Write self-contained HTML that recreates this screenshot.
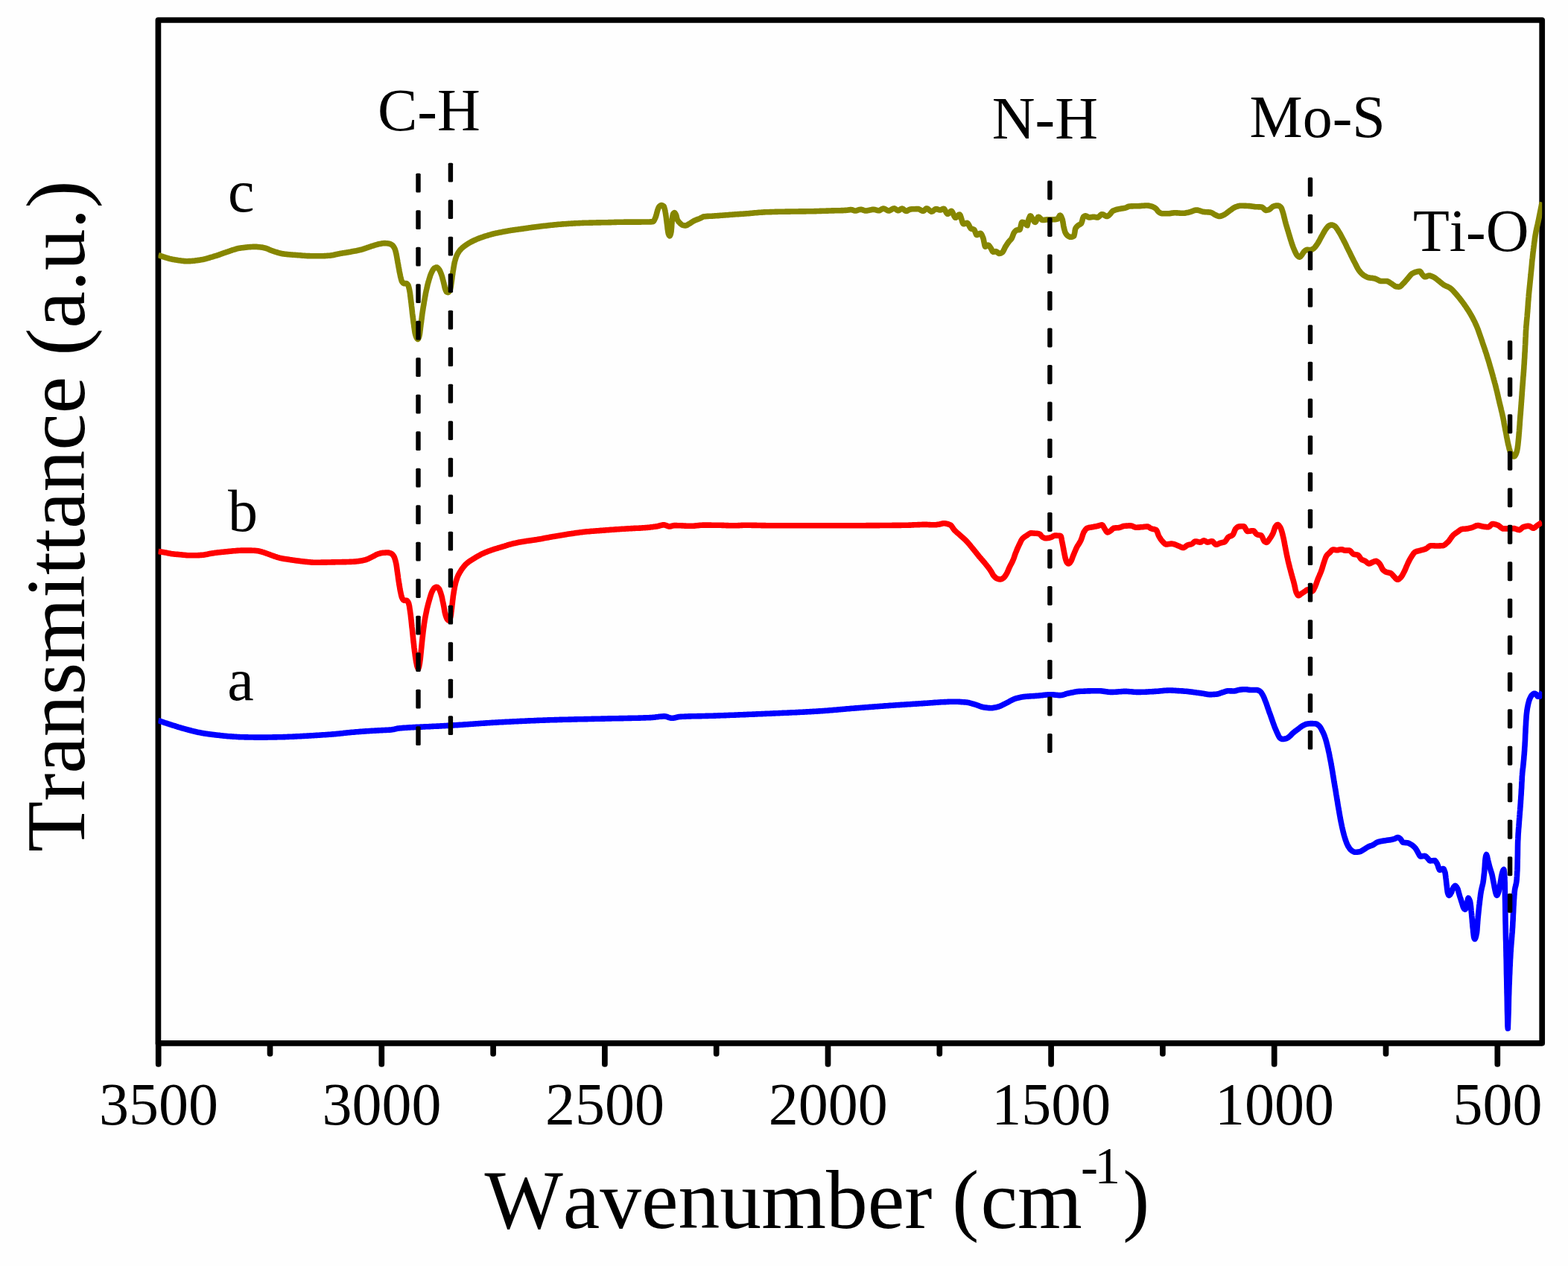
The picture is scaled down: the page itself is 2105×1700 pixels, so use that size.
<!DOCTYPE html>
<html lang="en">
<head>
<meta charset="utf-8">
<title>FTIR spectra</title>
<style>
html,body{margin:0;padding:0;background:#fefefe;}
body{width:2105px;height:1700px;overflow:hidden;}
svg{display:block;filter:blur(0.7px);}
text{font-family:"Liberation Serif","Times New Roman",serif;fill:#000;font-kerning:none;}
.tick{font-size:80px;text-anchor:middle;}
.lab{font-size:80px;}
.title{font-size:111.6px;}
.curve{fill:none;stroke-width:7.6;stroke-linejoin:round;stroke-linecap:butt;}
.dash rect{fill:#000;}
</style>
</head>
<body>
<svg width="2105" height="1700" viewBox="0 0 2105 1700">
<rect x="0" y="0" width="2105" height="1700" fill="#fefefe"/>
<defs><clipPath id="plot"><rect x="212.4" y="27.0" width="1857.8" height="1373.8"/></clipPath></defs>
<g stroke="#000" stroke-width="7.7" stroke-linecap="round">
<line x1="212.7" y1="1400.8" x2="212.7" y2="1429.0"/>
<line x1="512.3" y1="1400.8" x2="512.3" y2="1429.0"/>
<line x1="811.9" y1="1400.8" x2="811.9" y2="1429.0"/>
<line x1="1111.5" y1="1400.8" x2="1111.5" y2="1429.0"/>
<line x1="1411.1" y1="1400.8" x2="1411.1" y2="1429.0"/>
<line x1="1710.7" y1="1400.8" x2="1710.7" y2="1429.0"/>
<line x1="2010.3" y1="1400.8" x2="2010.3" y2="1429.0"/>
<line x1="362.5" y1="1400.8" x2="362.5" y2="1415.0"/>
<line x1="662.1" y1="1400.8" x2="662.1" y2="1415.0"/>
<line x1="961.7" y1="1400.8" x2="961.7" y2="1415.0"/>
<line x1="1261.3" y1="1400.8" x2="1261.3" y2="1415.0"/>
<line x1="1560.9" y1="1400.8" x2="1560.9" y2="1415.0"/>
<line x1="1860.5" y1="1400.8" x2="1860.5" y2="1415.0"/>
</g>
<rect x="212.4" y="27.0" width="1857.8" height="1373.8" fill="none" stroke="#000" stroke-width="7.7" stroke-linejoin="round"/>
<g clip-path="url(#plot)">
<path class="curve" stroke="#868600" d="M212.4,342.5 L213.4,342.9 L214.4,343.2 L215.4,343.5 L216.4,343.9 L217.4,344.2 L218.4,344.5 L219.4,344.9 L220.4,345.2 L221.4,345.5 L222.4,345.8 L223.4,346.1 L224.4,346.4 L225.4,346.8 L226.4,347.0 L227.4,347.3 L228.4,347.6 L228.5,347.6 L229.4,347.8 L230.4,348.0 L231.4,348.2 L232.4,348.4 L233.4,348.6 L234.4,348.8 L235.4,349.0 L235.6,349.0 L236.4,349.1 L237.4,349.3 L238.4,349.4 L239.4,349.6 L240.4,349.7 L241.4,349.8 L242.4,350.0 L242.8,350.0 L243.4,350.1 L244.4,350.2 L245.4,350.3 L246.4,350.5 L247.4,350.6 L248.4,350.6 L249.4,350.7 L249.9,350.7 L250.4,350.7 L251.4,350.7 L252.4,350.7 L253.4,350.6 L254.4,350.6 L255.4,350.6 L256.4,350.5 L257.0,350.5 L257.4,350.5 L258.4,350.4 L259.4,350.3 L260.4,350.2 L261.4,350.1 L262.4,349.9 L263.4,349.8 L264.1,349.7 L264.4,349.7 L265.4,349.5 L266.4,349.4 L267.4,349.2 L268.4,349.1 L269.4,348.9 L270.4,348.8 L271.3,348.6 L271.4,348.6 L272.4,348.4 L273.4,348.2 L274.4,347.9 L275.4,347.7 L276.4,347.4 L277.4,347.2 L278.4,346.9 L279.4,346.6 L280.4,346.3 L281.4,346.0 L282.4,345.7 L283.4,345.4 L284.4,345.1 L285.4,344.8 L285.5,344.8 L286.4,344.5 L287.4,344.2 L288.4,343.9 L289.4,343.6 L290.4,343.3 L291.4,343.0 L292.4,342.7 L292.6,342.6 L293.4,342.3 L294.4,342.0 L295.4,341.6 L296.4,341.2 L297.4,340.9 L298.4,340.5 L299.4,340.1 L299.8,340.0 L300.4,339.8 L301.4,339.4 L302.4,339.1 L303.4,338.8 L304.4,338.4 L305.4,338.1 L306.4,337.8 L306.9,337.6 L307.4,337.4 L308.4,337.1 L309.4,336.7 L310.4,336.4 L311.4,336.0 L312.4,335.7 L313.4,335.4 L314.0,335.2 L314.4,335.1 L315.4,334.8 L316.4,334.5 L317.4,334.2 L318.4,333.9 L319.4,333.6 L320.4,333.4 L321.1,333.3 L321.4,333.2 L322.4,333.1 L323.4,333.0 L324.4,332.8 L325.4,332.7 L326.4,332.6 L327.4,332.5 L328.3,332.4 L328.4,332.4 L329.4,332.3 L330.4,332.1 L331.4,332.0 L332.4,331.9 L333.4,331.8 L334.4,331.7 L335.4,331.6 L336.4,331.6 L337.4,331.5 L338.4,331.5 L339.4,331.4 L340.4,331.4 L341.4,331.4 L342.4,331.4 L342.5,331.4 L343.4,331.4 L344.4,331.4 L345.4,331.5 L346.4,331.6 L347.4,331.7 L348.4,331.8 L349.4,331.9 L349.6,331.9 L350.4,332.0 L351.4,332.1 L352.4,332.3 L353.4,332.5 L354.4,332.7 L355.4,332.9 L356.4,333.2 L356.8,333.3 L357.4,333.5 L358.4,333.8 L359.4,334.2 L360.4,334.7 L361.4,335.1 L362.4,335.6 L363.4,336.0 L363.9,336.2 L364.4,336.4 L365.4,336.7 L366.4,337.1 L367.4,337.4 L368.4,337.8 L369.4,338.1 L370.4,338.4 L371.0,338.6 L371.4,338.7 L372.4,339.0 L373.4,339.3 L374.4,339.6 L375.4,339.9 L376.4,340.1 L377.4,340.4 L378.1,340.5 L378.4,340.6 L379.4,340.7 L380.4,340.9 L381.4,341.0 L382.4,341.2 L383.4,341.3 L384.4,341.4 L385.3,341.5 L385.4,341.5 L386.4,341.6 L387.4,341.7 L388.4,341.8 L389.4,341.9 L390.4,342.0 L391.4,342.0 L392.4,342.1 L393.4,342.2 L394.4,342.2 L395.4,342.3 L396.4,342.4 L397.4,342.5 L398.4,342.5 L399.4,342.6 L399.5,342.6 L400.4,342.7 L401.4,342.7 L402.4,342.8 L403.4,342.9 L404.4,343.0 L405.4,343.1 L406.4,343.2 L407.4,343.2 L408.4,343.3 L409.4,343.4 L410.4,343.5 L411.4,343.5 L412.4,343.6 L413.4,343.6 L413.8,343.6 L414.4,343.6 L415.4,343.6 L416.4,343.7 L417.4,343.7 L418.4,343.7 L419.4,343.7 L420.4,343.7 L421.4,343.7 L422.4,343.8 L423.4,343.8 L424.4,343.8 L425.4,343.8 L426.4,343.8 L427.4,343.8 L428.0,343.8 L428.4,343.8 L429.4,343.8 L430.4,343.8 L431.4,343.8 L432.4,343.7 L433.4,343.7 L434.4,343.7 L435.4,343.6 L436.4,343.6 L437.4,343.5 L438.4,343.5 L439.4,343.4 L440.4,343.3 L441.4,343.3 L442.3,343.2 L442.4,343.2 L443.4,343.1 L444.4,343.0 L445.4,342.8 L446.4,342.7 L447.4,342.5 L448.4,342.3 L449.4,342.0 L450.4,341.8 L451.4,341.6 L452.4,341.4 L453.4,341.1 L454.4,340.9 L455.4,340.7 L456.4,340.5 L456.5,340.5 L457.4,340.3 L458.4,340.2 L459.4,340.0 L460.4,339.8 L461.4,339.7 L462.4,339.5 L463.4,339.4 L464.4,339.2 L465.4,339.0 L466.4,338.9 L467.4,338.7 L468.4,338.5 L469.4,338.4 L470.4,338.2 L470.8,338.1 L471.4,338.0 L472.4,337.8 L473.4,337.6 L474.4,337.4 L475.4,337.3 L476.4,337.1 L477.4,336.9 L478.4,336.7 L479.4,336.5 L480.4,336.3 L481.4,336.1 L482.4,335.8 L483.4,335.6 L484.4,335.4 L485.0,335.2 L485.4,335.1 L486.4,334.8 L487.4,334.5 L488.4,334.2 L489.4,333.8 L490.4,333.5 L491.4,333.1 L492.4,332.8 L492.9,332.6 L493.4,332.4 L494.4,332.1 L495.4,331.8 L496.4,331.4 L497.4,331.1 L498.4,330.7 L499.4,330.4 L500.4,330.1 L501.4,329.8 L502.4,329.5 L503.3,329.2 L503.4,329.2 L504.4,328.9 L505.4,328.6 L506.4,328.3 L507.4,328.0 L508.4,327.8 L509.4,327.6 L509.8,327.5 L510.4,327.4 L511.4,327.2 L512.4,327.0 L513.4,326.8 L514.4,326.7 L515.4,326.6 L516.2,326.6 L516.4,326.6 L517.4,326.6 L518.4,326.7 L519.4,326.8 L520.4,326.9 L521.4,327.0 L522.4,327.2 L523.4,327.5 L524.4,327.9 L525.4,328.4 L526.4,329.1 L526.6,329.2 L527.4,329.9 L528.4,331.2 L529.4,332.9 L529.8,333.7 L530.4,335.2 L531.1,337.5 L531.6,339.6 L531.8,340.2 L532.1,341.8 L532.5,343.9 L532.9,346.0 L533.2,348.0 L533.6,349.9 L533.7,350.6 L533.9,351.9 L534.3,353.9 L534.7,355.9 L535.0,357.9 L535.4,359.9 L535.6,360.9 L535.8,361.9 L536.1,363.9 L536.5,365.9 L536.9,367.8 L537.3,369.8 L537.6,371.3 L537.7,371.6 L538.2,373.6 L538.7,375.5 L539.2,377.2 L539.5,377.7 L540.1,378.7 L541.1,380.0 L542.1,380.6 L543.1,380.6 L544.1,380.6 L545.1,380.6 L545.3,380.6 L546.1,380.9 L547.1,381.8 L547.9,382.9 L548.1,383.3 L549.0,386.4 L549.5,388.6 L549.9,390.6 L549.9,390.7 L550.3,392.9 L550.6,395.0 L550.8,397.1 L551.1,399.1 L551.3,401.2 L551.6,403.1 L551.8,404.9 L551.8,405.1 L552.1,407.2 L552.3,409.2 L552.5,411.2 L552.8,413.3 L553.0,415.3 L553.2,417.2 L553.4,419.2 L553.6,421.2 L553.7,421.7 L553.9,423.2 L554.1,425.1 L554.4,427.1 L554.6,429.1 L554.9,431.1 L555.1,433.1 L555.4,435.0 L555.7,437.0 L555.7,437.3 L555.9,439.0 L556.2,441.0 L556.5,443.0 L556.8,444.9 L557.1,446.8 L557.5,448.5 L557.6,448.9 L558.0,450.3 L558.6,452.1 L559.4,453.7 L559.6,454.1 L560.4,455.1 L560.9,455.4 L561.4,455.1 L562.4,452.8 L562.8,451.5 L563.0,450.5 L563.5,448.1 L563.8,445.9 L564.0,443.9 L564.3,441.9 L564.5,439.9 L564.7,438.5 L564.8,438.0 L565.0,435.9 L565.3,433.9 L565.6,431.9 L565.8,429.9 L566.1,427.9 L566.3,425.9 L566.6,423.9 L566.7,423.0 L566.8,422.0 L567.1,420.0 L567.4,418.0 L567.7,416.1 L568.0,414.1 L568.3,412.1 L568.7,410.1 L569.0,408.1 L569.3,406.2 L569.6,404.2 L570.0,402.2 L570.3,400.2 L570.7,398.2 L571.1,396.3 L571.4,394.3 L571.8,392.4 L571.9,392.0 L572.2,390.4 L572.7,388.4 L573.1,386.5 L573.6,384.5 L574.0,382.5 L574.5,380.6 L575.1,378.6 L575.6,376.7 L575.7,376.4 L576.2,374.7 L576.8,372.8 L577.4,370.8 L578.1,368.9 L578.9,367.0 L579.6,365.4 L579.7,365.2 L580.7,363.3 L581.7,361.6 L582.7,360.5 L582.9,360.3 L583.7,359.8 L584.7,359.3 L585.7,359.0 L586.1,359.0 L586.7,359.1 L587.7,359.8 L588.7,360.9 L589.3,361.6 L589.7,362.1 L590.7,363.9 L591.6,366.1 L592.4,368.2 L592.6,368.7 L593.2,370.4 L593.8,372.5 L594.3,374.6 L594.9,376.6 L595.4,378.6 L595.8,380.3 L595.9,380.6 L596.4,382.8 L596.8,384.8 L597.3,386.7 L597.7,388.1 L597.8,388.3 L598.5,390.2 L599.4,391.8 L599.7,392.0 L600.4,392.3 L601.4,392.6 L601.6,392.6 L602.4,392.2 L603.4,390.9 L604.2,389.4 L604.4,388.8 L605.0,386.0 L605.4,383.9 L605.7,381.8 L606.0,379.9 L606.1,379.0 L606.3,377.9 L606.6,375.8 L606.9,373.7 L607.1,371.7 L607.4,369.7 L607.7,367.8 L607.9,365.8 L608.1,364.8 L608.2,363.9 L608.6,361.9 L608.9,359.9 L609.2,358.0 L609.6,356.0 L609.9,354.1 L610.3,352.2 L610.7,350.6 L610.8,350.4 L611.3,348.5 L611.9,346.6 L612.5,344.7 L613.3,342.9 L613.9,341.5 L614.1,341.1 L615.1,339.3 L616.1,337.8 L617.1,336.5 L618.1,335.3 L618.4,335.0 L619.1,334.2 L620.1,333.3 L621.1,332.4 L622.1,331.5 L623.1,330.8 L624.1,330.0 L625.1,329.3 L626.1,328.6 L626.2,328.6 L627.1,328.0 L628.1,327.3 L629.1,326.7 L630.1,326.1 L631.1,325.6 L632.1,325.0 L633.1,324.5 L634.1,324.0 L635.1,323.5 L635.3,323.4 L636.1,323.0 L637.1,322.5 L638.1,322.1 L639.1,321.7 L640.1,321.2 L641.1,320.8 L642.1,320.4 L643.1,320.0 L644.1,319.7 L645.1,319.3 L646.1,318.9 L647.1,318.6 L648.1,318.2 L648.2,318.2 L649.1,317.9 L650.1,317.5 L651.1,317.2 L652.1,316.9 L653.1,316.6 L654.1,316.3 L655.1,316.0 L656.1,315.7 L657.1,315.4 L658.1,315.1 L659.1,314.8 L660.1,314.5 L661.1,314.3 L662.1,314.0 L663.1,313.8 L664.1,313.6 L665.1,313.3 L666.1,313.1 L667.1,312.9 L668.1,312.7 L669.1,312.5 L670.1,312.3 L671.1,312.1 L672.1,311.9 L673.1,311.7 L674.1,311.5 L675.1,311.3 L676.1,311.1 L677.1,310.9 L678.1,310.7 L679.1,310.5 L680.1,310.4 L681.1,310.2 L682.1,310.0 L683.1,309.8 L684.1,309.7 L685.1,309.5 L686.1,309.3 L687.0,309.2 L687.1,309.2 L688.1,309.0 L689.1,308.9 L690.1,308.7 L691.1,308.6 L692.1,308.5 L693.1,308.3 L694.1,308.2 L695.1,308.1 L696.1,307.9 L697.1,307.8 L698.1,307.7 L699.1,307.5 L700.0,307.4 L700.1,307.4 L701.1,307.2 L702.1,307.1 L703.1,307.0 L704.1,306.8 L705.1,306.7 L706.1,306.5 L707.1,306.4 L708.1,306.2 L709.1,306.1 L710.1,305.9 L711.1,305.8 L712.1,305.7 L713.1,305.5 L714.0,305.4 L714.1,305.4 L715.1,305.3 L716.1,305.1 L717.1,305.0 L718.1,304.9 L719.1,304.7 L720.1,304.6 L721.1,304.5 L722.1,304.4 L723.1,304.2 L724.1,304.1 L725.1,304.0 L726.1,303.9 L727.1,303.8 L728.1,303.6 L728.5,303.6 L729.1,303.5 L730.1,303.4 L731.1,303.3 L732.1,303.2 L733.1,303.1 L734.1,303.0 L735.1,302.9 L736.1,302.8 L737.1,302.6 L738.1,302.5 L739.1,302.4 L740.1,302.3 L741.1,302.2 L742.1,302.1 L743.1,302.0 L744.1,301.9 L745.1,301.8 L746.1,301.7 L747.1,301.6 L748.1,301.5 L749.1,301.4 L750.1,301.3 L751.1,301.3 L752.1,301.2 L753.1,301.1 L754.1,301.0 L755.1,300.9 L756.1,300.9 L757.0,300.8 L757.1,300.8 L758.1,300.7 L759.1,300.7 L760.1,300.6 L761.1,300.5 L762.1,300.5 L763.1,300.4 L764.1,300.3 L765.1,300.3 L766.1,300.2 L767.1,300.1 L768.1,300.1 L769.1,300.0 L770.1,300.0 L771.1,299.9 L772.1,299.9 L773.1,299.8 L774.1,299.8 L775.1,299.7 L776.1,299.7 L777.1,299.6 L778.1,299.6 L779.1,299.5 L780.1,299.5 L781.1,299.5 L782.1,299.4 L783.1,299.4 L784.1,299.3 L785.1,299.3 L785.5,299.3 L786.1,299.3 L787.1,299.3 L788.1,299.2 L789.1,299.2 L790.1,299.2 L791.1,299.1 L792.1,299.1 L793.1,299.1 L794.1,299.1 L795.1,299.1 L796.1,299.0 L797.1,299.0 L798.1,299.0 L799.1,299.0 L800.1,299.0 L801.1,298.9 L802.1,298.9 L803.1,298.9 L804.1,298.9 L805.1,298.9 L806.1,298.9 L807.1,298.8 L808.1,298.8 L809.1,298.8 L810.1,298.8 L811.1,298.8 L812.1,298.7 L813.1,298.7 L814.0,298.7 L814.1,298.7 L815.1,298.7 L816.1,298.7 L817.1,298.6 L818.1,298.6 L819.1,298.6 L820.1,298.6 L821.1,298.5 L822.1,298.5 L823.1,298.5 L824.1,298.5 L825.1,298.4 L826.1,298.4 L827.1,298.4 L828.1,298.3 L829.1,298.3 L830.1,298.3 L831.1,298.3 L832.1,298.3 L833.1,298.2 L834.1,298.2 L835.1,298.2 L836.1,298.2 L837.1,298.2 L838.1,298.1 L839.1,298.1 L840.1,298.1 L841.1,298.1 L842.1,298.1 L842.5,298.1 L843.1,298.1 L844.1,298.1 L845.1,298.1 L846.1,298.1 L847.1,298.1 L848.1,298.1 L849.1,298.1 L850.1,298.1 L851.1,298.1 L852.1,298.1 L853.1,298.1 L854.1,298.1 L855.1,298.1 L856.1,298.1 L857.1,298.1 L858.1,298.1 L859.1,298.1 L860.1,298.1 L861.1,298.0 L862.1,298.0 L863.1,298.0 L864.1,298.0 L865.1,298.0 L866.1,298.0 L867.1,298.0 L868.1,298.0 L869.1,298.0 L870.1,298.0 L871.0,298.0 L871.1,298.0 L872.1,298.0 L873.1,297.9 L874.1,297.9 L875.1,297.8 L876.1,297.7 L876.7,297.6 L877.1,297.4 L878.1,296.1 L879.1,294.1 L880.0,292.0 L880.3,291.3 L880.8,289.7 L881.4,287.5 L881.9,285.5 L882.4,283.6 L882.9,281.8 L883.1,281.3 L883.6,280.0 L884.4,278.2 L885.3,277.0 L885.4,276.9 L886.4,276.1 L887.4,275.6 L887.8,275.6 L888.4,275.7 L889.4,276.0 L890.4,276.6 L891.0,277.0 L891.4,277.7 L892.3,280.6 L892.8,282.7 L893.1,284.1 L893.2,284.8 L893.6,287.1 L893.9,289.2 L894.2,291.3 L894.5,293.3 L894.7,295.3 L895.0,297.3 L895.2,299.2 L895.3,299.8 L895.5,301.2 L895.8,303.3 L896.0,305.3 L896.2,307.3 L896.5,309.2 L896.8,311.1 L897.1,312.9 L897.4,314.1 L897.5,314.3 L898.3,316.1 L899.1,316.9 L899.3,316.8 L900.3,314.5 L900.8,312.2 L901.0,311.2 L901.2,309.5 L901.4,307.2 L901.6,305.1 L901.7,303.0 L901.8,301.0 L902.0,299.1 L902.1,297.2 L902.3,295.4 L902.4,294.1 L902.5,293.7 L902.7,291.8 L903.0,289.9 L903.4,288.2 L903.8,287.0 L903.9,286.9 L904.9,285.8 L905.5,285.6 L905.9,285.8 L906.9,287.3 L907.4,288.4 L907.9,289.7 L908.4,291.9 L908.9,293.9 L909.5,295.5 L910.5,297.0 L911.5,298.2 L912.4,299.1 L912.5,299.2 L913.5,300.2 L914.5,301.1 L915.5,301.9 L916.5,302.4 L916.6,302.4 L917.5,302.6 L918.5,302.8 L919.5,302.9 L920.2,302.9 L920.5,302.9 L921.5,302.6 L922.5,302.2 L923.5,301.6 L924.5,300.9 L925.2,300.5 L925.5,300.3 L926.5,299.8 L927.5,299.1 L928.5,298.5 L929.5,297.8 L930.5,297.2 L931.5,296.6 L932.3,296.2 L932.5,296.1 L933.5,295.7 L934.5,295.3 L935.5,294.9 L936.5,294.5 L937.5,294.2 L938.5,293.8 L939.4,293.4 L939.5,293.4 L940.5,292.9 L941.5,292.3 L942.5,291.8 L943.5,291.3 L944.5,290.9 L945.1,290.8 L945.5,290.8 L946.5,290.7 L947.5,290.6 L948.5,290.5 L949.5,290.4 L950.5,290.4 L951.5,290.3 L952.5,290.3 L953.5,290.3 L954.5,290.2 L955.5,290.2 L956.5,290.1 L957.5,290.0 L958.5,290.0 L959.5,289.9 L960.5,289.8 L961.5,289.8 L962.5,289.7 L963.5,289.6 L964.5,289.6 L965.5,289.5 L966.5,289.4 L967.5,289.3 L968.5,289.3 L969.5,289.2 L970.5,289.1 L970.8,289.1 L971.5,289.0 L972.5,289.0 L973.5,288.9 L974.5,288.8 L975.5,288.7 L976.5,288.7 L977.5,288.6 L978.5,288.5 L979.5,288.4 L980.5,288.3 L981.5,288.3 L982.5,288.2 L983.5,288.1 L984.5,288.0 L985.0,288.0 L985.5,288.0 L986.5,287.9 L987.5,287.8 L988.5,287.8 L989.5,287.7 L990.5,287.6 L991.5,287.6 L992.5,287.5 L993.5,287.4 L994.5,287.4 L995.5,287.3 L996.5,287.2 L997.5,287.2 L998.5,287.1 L999.5,287.0 L1000.0,287.0 L1000.5,287.0 L1001.5,286.9 L1002.5,286.8 L1003.5,286.7 L1004.5,286.7 L1005.5,286.6 L1006.5,286.5 L1007.5,286.4 L1008.5,286.3 L1009.5,286.2 L1010.5,286.1 L1011.5,286.0 L1012.5,285.9 L1013.5,285.8 L1014.5,285.8 L1015.5,285.7 L1016.5,285.6 L1017.5,285.5 L1018.5,285.4 L1019.5,285.3 L1020.5,285.3 L1021.5,285.2 L1022.5,285.1 L1023.5,285.1 L1024.5,285.0 L1025.5,284.9 L1026.5,284.9 L1027.5,284.8 L1028.5,284.8 L1029.5,284.8 L1030.5,284.7 L1031.5,284.7 L1032.5,284.7 L1033.5,284.6 L1034.5,284.6 L1035.5,284.6 L1036.5,284.5 L1037.5,284.5 L1038.5,284.5 L1039.5,284.5 L1040.5,284.4 L1041.5,284.4 L1042.5,284.4 L1043.5,284.4 L1044.5,284.3 L1045.5,284.3 L1046.5,284.3 L1047.5,284.3 L1048.5,284.2 L1049.5,284.2 L1050.5,284.2 L1051.5,284.2 L1052.5,284.2 L1053.5,284.2 L1054.5,284.1 L1055.5,284.1 L1056.5,284.1 L1057.0,284.1 L1057.5,284.1 L1058.5,284.1 L1059.5,284.1 L1060.5,284.1 L1061.5,284.0 L1062.5,284.0 L1063.5,284.0 L1064.5,284.0 L1065.5,284.0 L1066.5,284.0 L1067.5,284.0 L1068.5,284.0 L1069.5,284.0 L1070.5,284.0 L1071.5,284.0 L1072.5,283.9 L1073.5,283.9 L1074.5,283.9 L1075.5,283.9 L1076.5,283.9 L1077.5,283.9 L1078.5,283.9 L1079.5,283.9 L1080.5,283.9 L1081.5,283.9 L1082.5,283.8 L1083.5,283.8 L1084.5,283.8 L1085.5,283.8 L1086.5,283.8 L1087.5,283.8 L1088.5,283.7 L1089.5,283.7 L1090.5,283.7 L1091.5,283.7 L1092.5,283.7 L1093.5,283.6 L1094.5,283.6 L1095.5,283.6 L1096.5,283.5 L1097.5,283.5 L1098.5,283.5 L1099.5,283.5 L1100.5,283.4 L1101.5,283.4 L1102.5,283.4 L1103.5,283.3 L1104.5,283.3 L1105.5,283.3 L1106.5,283.2 L1107.5,283.2 L1108.5,283.2 L1109.5,283.1 L1110.5,283.1 L1111.5,283.1 L1112.5,283.0 L1113.5,283.0 L1114.0,283.0 L1114.5,283.0 L1115.5,283.0 L1116.5,282.9 L1117.5,282.9 L1118.5,282.9 L1119.5,282.9 L1120.5,282.8 L1121.5,282.8 L1122.5,282.8 L1123.5,282.8 L1124.5,282.8 L1125.5,282.7 L1126.5,282.7 L1127.5,282.7 L1128.5,282.7 L1129.5,282.6 L1130.5,282.6 L1131.5,282.6 L1132.5,282.5 L1133.5,282.5 L1134.5,282.4 L1135.4,282.4 L1135.5,282.4 L1136.5,282.3 L1137.5,282.2 L1138.5,282.0 L1139.5,281.9 L1140.5,281.7 L1141.5,281.6 L1142.5,281.6 L1143.5,281.7 L1144.5,282.0 L1145.5,282.3 L1146.5,282.7 L1147.5,282.9 L1148.2,283.0 L1148.5,283.0 L1149.5,282.9 L1150.5,282.6 L1151.5,282.2 L1152.5,281.9 L1153.5,281.6 L1154.5,281.4 L1155.3,281.3 L1155.5,281.3 L1156.5,281.4 L1157.5,281.7 L1158.5,282.0 L1159.5,282.4 L1160.5,282.7 L1161.5,282.9 L1162.5,283.0 L1163.5,283.0 L1164.5,282.8 L1165.5,282.6 L1166.5,282.4 L1167.5,282.1 L1168.5,281.9 L1169.5,281.7 L1170.5,281.5 L1171.5,281.3 L1172.4,281.3 L1172.5,281.3 L1173.5,281.4 L1174.5,281.6 L1175.5,281.8 L1176.5,282.1 L1177.5,282.4 L1178.5,282.6 L1179.5,282.7 L1179.6,282.7 L1180.5,282.6 L1181.5,282.2 L1182.5,281.6 L1183.5,281.0 L1184.5,280.5 L1185.5,280.1 L1186.0,280.1 L1186.5,280.1 L1187.5,280.4 L1188.5,280.9 L1189.5,281.5 L1190.5,282.1 L1191.5,282.6 L1192.5,282.9 L1193.1,283.0 L1193.5,283.0 L1194.5,282.7 L1195.5,282.2 L1196.5,281.6 L1197.5,280.9 L1198.5,280.4 L1199.5,280.0 L1200.2,279.9 L1200.5,279.9 L1201.5,280.3 L1202.5,280.9 L1203.5,281.6 L1204.5,282.3 L1205.5,282.7 L1205.9,282.7 L1206.5,282.6 L1207.5,282.1 L1208.5,281.3 L1209.5,280.6 L1210.5,280.2 L1210.9,280.1 L1211.5,280.2 L1212.5,280.7 L1213.5,281.5 L1214.5,282.4 L1215.5,283.1 L1216.5,283.4 L1216.6,283.4 L1217.5,283.3 L1218.5,282.8 L1219.5,282.2 L1220.5,281.6 L1221.5,281.2 L1222.3,281.0 L1222.5,281.0 L1223.5,280.9 L1224.5,280.8 L1225.5,280.8 L1226.5,280.7 L1227.5,280.7 L1228.5,280.7 L1229.5,280.6 L1230.5,280.6 L1231.5,280.6 L1232.3,280.6 L1232.5,280.6 L1233.5,280.8 L1234.5,281.2 L1235.5,281.8 L1236.5,282.4 L1237.5,282.9 L1238.5,283.3 L1239.4,283.4 L1239.5,283.4 L1240.5,282.9 L1241.5,281.9 L1242.5,280.8 L1243.5,280.0 L1244.0,279.9 L1244.5,280.0 L1245.5,280.4 L1246.5,281.2 L1247.5,282.1 L1248.5,283.0 L1249.5,283.7 L1250.5,284.1 L1250.8,284.1 L1251.5,284.0 L1252.5,283.4 L1253.5,282.5 L1254.5,281.6 L1255.5,280.9 L1256.5,280.6 L1257.5,280.7 L1258.5,281.0 L1259.5,281.3 L1260.5,281.7 L1261.5,281.9 L1262.2,282.0 L1262.5,282.0 L1263.5,281.7 L1264.5,281.1 L1265.5,280.6 L1266.5,280.2 L1266.8,280.2 L1267.5,280.5 L1268.5,281.9 L1269.5,283.8 L1270.5,285.7 L1271.5,287.0 L1272.1,287.3 L1272.5,287.2 L1273.5,286.6 L1274.5,285.5 L1275.5,284.4 L1276.5,283.6 L1277.1,283.4 L1277.5,283.5 L1278.5,284.7 L1279.5,286.7 L1280.4,288.8 L1281.2,290.6 L1282.2,292.0 L1282.8,292.3 L1283.2,292.2 L1284.2,291.6 L1285.2,290.5 L1286.2,289.3 L1287.2,288.4 L1288.2,288.0 L1289.2,289.2 L1290.1,291.8 L1290.7,293.9 L1291.3,295.9 L1291.8,297.8 L1292.5,299.5 L1293.3,300.8 L1293.5,300.8 L1294.3,300.7 L1295.3,300.4 L1296.3,300.0 L1297.3,299.6 L1298.3,299.4 L1298.5,299.4 L1299.3,299.9 L1300.3,301.5 L1301.3,303.5 L1302.3,305.4 L1303.3,306.8 L1303.5,306.9 L1304.3,307.3 L1305.3,307.6 L1306.3,307.8 L1307.3,308.2 L1307.7,308.4 L1308.3,309.2 L1309.3,311.6 L1310.0,313.6 L1310.8,315.2 L1311.3,315.5 L1311.8,315.4 L1312.8,315.0 L1313.8,314.4 L1314.8,313.8 L1315.8,313.4 L1316.3,313.3 L1316.8,313.5 L1317.8,314.8 L1318.8,317.0 L1319.6,319.1 L1319.9,319.8 L1320.4,321.6 L1320.8,323.8 L1321.2,325.9 L1321.6,327.8 L1322.0,329.6 L1322.5,331.0 L1322.7,331.2 L1323.5,330.9 L1324.5,330.1 L1325.5,329.3 L1326.3,329.0 L1326.5,329.0 L1327.5,329.6 L1328.5,330.8 L1329.5,332.2 L1329.8,332.6 L1330.5,333.7 L1331.5,335.7 L1332.4,337.5 L1333.4,338.3 L1334.4,338.2 L1335.4,337.9 L1336.4,337.6 L1337.0,337.6 L1337.4,337.7 L1338.4,338.3 L1339.4,339.3 L1340.4,340.1 L1341.2,340.4 L1341.4,340.4 L1342.4,340.3 L1343.4,340.0 L1344.4,339.6 L1345.4,339.0 L1345.5,339.0 L1346.4,338.0 L1347.4,336.2 L1348.4,334.1 L1349.3,332.2 L1349.8,331.2 L1350.3,330.5 L1351.3,328.9 L1352.3,327.4 L1353.3,325.9 L1354.1,324.8 L1354.3,324.6 L1355.3,323.4 L1356.3,322.4 L1357.3,321.3 L1358.3,319.9 L1358.3,319.8 L1359.3,317.5 L1360.0,315.5 L1360.7,313.6 L1361.2,312.6 L1361.5,312.2 L1362.5,310.9 L1363.5,309.9 L1364.5,309.2 L1364.8,309.1 L1365.5,308.9 L1366.5,308.8 L1367.5,308.7 L1368.5,308.5 L1369.0,308.4 L1369.5,307.5 L1370.1,304.8 L1370.6,302.7 L1371.0,300.8 L1371.4,299.2 L1371.9,298.4 L1372.1,298.4 L1373.1,298.5 L1374.1,298.7 L1375.1,299.0 L1375.4,299.1 L1376.1,299.6 L1377.1,300.9 L1378.1,302.2 L1379.0,302.7 L1379.1,302.7 L1380.1,298.8 L1380.5,296.8 L1380.8,295.0 L1381.1,294.1 L1381.3,293.5 L1382.1,291.6 L1382.9,290.0 L1383.3,289.8 L1383.9,290.1 L1384.9,291.8 L1385.9,293.7 L1386.1,294.1 L1386.9,295.2 L1387.9,296.8 L1388.9,298.0 L1389.7,298.4 L1389.9,298.4 L1390.9,297.1 L1391.9,294.8 L1392.7,292.9 L1393.6,291.5 L1394.0,291.3 L1394.6,291.4 L1395.6,292.1 L1396.6,293.1 L1397.6,294.2 L1398.6,295.1 L1399.6,295.5 L1399.7,295.5 L1400.6,295.5 L1401.6,295.4 L1402.6,295.2 L1403.6,295.1 L1404.6,295.0 L1405.6,294.9 L1406.6,294.8 L1406.8,294.8 L1407.6,294.8 L1408.6,294.8 L1409.6,294.8 L1410.6,294.8 L1411.6,294.8 L1412.6,294.8 L1413.2,294.8 L1413.6,294.8 L1414.6,294.8 L1415.6,294.7 L1416.6,294.6 L1417.6,294.5 L1418.6,294.3 L1419.6,294.1 L1420.6,293.0 L1421.6,291.1 L1422.6,289.4 L1423.2,289.1 L1423.6,289.3 L1424.6,290.7 L1425.6,293.1 L1426.0,294.1 L1426.4,295.4 L1426.8,297.8 L1427.2,299.8 L1427.5,301.8 L1427.8,303.7 L1428.2,305.5 L1428.7,307.5 L1429.2,309.4 L1429.7,311.2 L1430.3,312.6 L1430.4,312.8 L1431.4,314.4 L1432.4,315.7 L1433.4,316.6 L1433.9,316.9 L1434.4,317.2 L1435.4,317.8 L1436.4,318.2 L1437.4,318.3 L1438.4,318.2 L1439.4,318.0 L1440.4,317.6 L1441.4,317.1 L1441.7,316.9 L1442.4,314.3 L1442.8,312.1 L1443.1,310.1 L1443.4,308.3 L1443.8,306.9 L1444.8,305.2 L1445.8,304.1 L1446.8,303.2 L1447.4,302.7 L1447.8,302.4 L1448.8,301.8 L1449.8,301.3 L1450.8,300.6 L1451.7,299.8 L1451.8,299.7 L1452.8,296.6 L1453.3,294.6 L1453.8,292.8 L1454.5,291.3 L1455.5,290.5 L1456.5,290.0 L1457.4,289.8 L1457.5,289.8 L1458.5,290.1 L1459.5,290.6 L1460.5,291.3 L1461.5,291.8 L1462.4,292.0 L1462.5,292.0 L1463.5,291.9 L1464.5,291.8 L1465.5,291.6 L1466.5,291.4 L1467.5,291.3 L1468.1,291.3 L1468.5,291.3 L1469.5,291.4 L1470.5,291.6 L1471.5,291.8 L1472.5,292.0 L1473.1,292.0 L1473.5,292.0 L1474.5,291.5 L1475.5,290.7 L1476.5,289.7 L1477.5,288.7 L1478.5,288.0 L1479.5,287.7 L1480.5,287.9 L1481.5,288.3 L1482.5,288.9 L1483.5,289.6 L1484.5,290.1 L1485.5,290.5 L1485.9,290.5 L1486.5,290.4 L1487.5,290.0 L1488.5,289.2 L1489.5,288.4 L1490.5,287.4 L1491.5,286.0 L1492.5,284.6 L1493.5,283.6 L1493.7,283.4 L1494.5,283.0 L1495.5,282.6 L1496.5,282.2 L1497.5,281.8 L1498.5,281.5 L1499.5,281.3 L1500.5,281.0 L1501.5,280.8 L1502.3,280.6 L1502.5,280.6 L1503.5,280.4 L1504.5,280.2 L1505.5,280.0 L1506.5,279.9 L1507.5,279.7 L1508.5,279.6 L1509.5,279.4 L1510.5,279.2 L1510.8,279.1 L1511.5,278.9 L1512.5,278.5 L1513.5,278.0 L1514.5,277.5 L1515.5,277.2 L1516.5,277.0 L1517.5,277.0 L1518.5,276.9 L1519.5,276.9 L1520.5,276.9 L1521.5,276.8 L1522.5,276.8 L1523.5,276.8 L1524.5,276.8 L1525.5,276.8 L1526.5,276.7 L1527.5,276.7 L1527.9,276.7 L1528.5,276.7 L1529.5,276.6 L1530.5,276.6 L1531.5,276.5 L1532.5,276.4 L1533.5,276.3 L1534.5,276.2 L1535.5,276.2 L1536.5,276.1 L1537.5,276.0 L1538.5,276.0 L1539.3,276.0 L1539.5,276.0 L1540.5,276.0 L1541.5,276.1 L1542.5,276.3 L1543.5,276.5 L1544.5,276.7 L1545.5,276.9 L1545.7,277.0 L1546.5,277.2 L1547.5,277.6 L1548.5,278.1 L1549.5,278.6 L1550.5,279.2 L1551.4,279.9 L1551.5,279.9 L1552.5,280.9 L1553.5,282.3 L1554.5,283.6 L1555.5,284.6 L1555.7,284.8 L1556.5,285.3 L1557.5,285.9 L1558.5,286.4 L1559.5,286.7 L1560.0,286.7 L1560.5,286.7 L1561.5,286.7 L1562.5,286.7 L1563.5,286.7 L1564.5,286.7 L1565.5,286.7 L1566.5,286.7 L1567.5,286.7 L1568.5,286.7 L1569.5,286.7 L1570.5,286.6 L1571.5,286.5 L1572.5,286.3 L1573.5,286.1 L1574.5,286.0 L1575.5,285.9 L1576.5,285.8 L1577.1,285.8 L1577.5,285.8 L1578.5,285.8 L1579.5,285.9 L1580.5,285.9 L1581.5,286.0 L1582.5,286.0 L1583.5,286.1 L1584.5,286.2 L1585.5,286.2 L1586.5,286.3 L1587.5,286.3 L1588.5,286.3 L1589.5,286.3 L1590.5,286.2 L1591.5,286.0 L1592.5,285.8 L1593.5,285.6 L1594.5,285.4 L1595.5,285.2 L1596.5,284.9 L1597.0,284.8 L1597.5,284.7 L1598.5,284.4 L1599.5,284.0 L1600.5,283.6 L1601.5,283.2 L1602.5,282.8 L1603.5,282.5 L1604.5,282.2 L1605.5,282.0 L1606.3,282.0 L1606.5,282.0 L1607.5,282.1 L1608.5,282.3 L1609.5,282.6 L1610.5,282.9 L1611.5,283.2 L1612.5,283.6 L1613.5,283.9 L1614.5,284.2 L1615.5,284.4 L1616.5,284.5 L1617.5,284.6 L1618.5,284.7 L1619.5,284.7 L1620.5,284.8 L1621.5,284.9 L1622.5,284.9 L1623.5,285.0 L1624.5,285.1 L1625.5,285.3 L1626.5,285.6 L1627.5,286.1 L1628.5,286.7 L1629.5,287.4 L1630.5,288.0 L1631.2,288.4 L1631.5,288.5 L1632.5,289.0 L1633.5,289.5 L1634.5,289.9 L1635.5,290.3 L1636.5,290.5 L1636.9,290.5 L1637.5,290.5 L1638.5,290.3 L1639.5,290.0 L1640.5,289.6 L1641.5,289.2 L1642.5,288.8 L1642.6,288.7 L1643.5,288.3 L1644.5,287.7 L1645.5,287.0 L1646.5,286.3 L1647.5,285.5 L1648.5,284.7 L1649.5,284.0 L1650.5,283.2 L1651.2,282.7 L1651.5,282.5 L1652.5,281.8 L1653.5,281.1 L1654.5,280.3 L1655.5,279.6 L1656.5,279.0 L1657.5,278.5 L1658.3,278.1 L1658.5,278.0 L1659.5,277.7 L1660.5,277.3 L1661.5,277.0 L1662.5,276.7 L1663.5,276.5 L1664.5,276.3 L1665.4,276.3 L1665.5,276.3 L1666.5,276.3 L1667.5,276.3 L1668.5,276.3 L1669.5,276.3 L1670.5,276.4 L1671.5,276.4 L1672.5,276.4 L1673.5,276.5 L1674.5,276.5 L1675.5,276.5 L1676.5,276.6 L1676.8,276.6 L1677.5,276.6 L1678.5,276.7 L1679.5,276.9 L1680.5,277.0 L1681.5,277.2 L1682.5,277.3 L1683.5,277.5 L1684.5,277.6 L1685.4,277.7 L1685.5,277.7 L1686.5,277.8 L1687.5,277.8 L1688.5,277.8 L1689.5,277.9 L1690.5,277.9 L1691.5,277.9 L1692.5,278.0 L1693.5,278.1 L1693.9,278.1 L1694.5,278.3 L1695.5,279.0 L1696.5,280.0 L1697.5,281.1 L1698.5,282.0 L1699.5,282.4 L1699.6,282.4 L1700.5,282.3 L1701.5,282.1 L1702.5,281.8 L1703.5,281.5 L1703.9,281.3 L1704.5,281.0 L1705.5,280.3 L1706.5,279.4 L1707.5,278.4 L1708.5,277.6 L1709.5,277.0 L1709.6,277.0 L1710.5,276.8 L1711.5,276.5 L1712.5,276.3 L1713.5,276.1 L1714.5,276.0 L1715.3,276.0 L1715.5,276.0 L1716.5,276.2 L1717.5,276.7 L1718.5,277.4 L1719.5,278.3 L1719.6,278.4 L1720.5,279.8 L1721.3,282.2 L1722.0,284.3 L1722.4,285.6 L1722.6,286.3 L1723.2,288.4 L1723.7,290.5 L1724.2,292.5 L1724.7,294.5 L1725.2,296.4 L1725.3,297.0 L1725.7,298.4 L1726.2,300.3 L1726.8,302.3 L1727.4,304.3 L1728.0,306.3 L1728.6,308.3 L1729.2,310.3 L1729.5,311.2 L1729.8,312.3 L1730.4,314.3 L1731.0,316.3 L1731.6,318.3 L1732.2,320.3 L1732.8,322.3 L1733.4,324.2 L1733.8,325.5 L1734.0,326.2 L1734.7,328.2 L1735.4,330.1 L1736.1,332.1 L1736.9,334.0 L1737.7,335.9 L1738.1,336.9 L1738.5,337.8 L1739.5,339.8 L1740.5,341.7 L1741.5,343.1 L1741.7,343.3 L1742.5,344.0 L1743.5,344.8 L1744.5,345.1 L1745.5,344.7 L1746.5,343.7 L1747.4,342.6 L1747.5,342.5 L1748.5,341.1 L1749.5,339.5 L1750.5,338.0 L1750.9,337.6 L1751.5,337.1 L1752.5,336.3 L1753.5,335.7 L1754.5,335.4 L1755.5,335.4 L1756.5,335.5 L1757.5,335.6 L1758.5,335.7 L1758.8,335.7 L1759.5,335.6 L1760.5,335.3 L1761.5,334.9 L1762.5,334.3 L1763.0,334.0 L1763.5,333.7 L1764.5,332.8 L1765.5,331.7 L1766.5,330.4 L1767.5,329.0 L1768.0,328.3 L1768.5,327.6 L1769.5,326.0 L1770.5,324.3 L1771.5,322.4 L1772.5,320.5 L1773.5,318.7 L1773.7,318.3 L1774.5,316.9 L1775.5,315.1 L1776.5,313.2 L1777.5,311.5 L1778.5,309.8 L1779.4,308.4 L1779.5,308.3 L1780.5,306.9 L1781.5,305.6 L1782.5,304.4 L1783.5,303.5 L1783.7,303.4 L1784.5,303.0 L1785.5,302.5 L1786.5,302.1 L1787.3,302.0 L1787.5,302.0 L1788.5,302.1 L1789.5,302.5 L1790.5,302.9 L1791.5,303.4 L1792.5,304.1 L1793.5,305.3 L1794.5,306.7 L1795.5,308.2 L1796.5,309.7 L1796.5,309.8 L1797.5,311.3 L1798.5,312.9 L1799.5,314.7 L1800.5,316.5 L1801.5,318.4 L1802.5,320.3 L1803.5,322.2 L1803.7,322.6 L1804.5,324.1 L1805.5,326.0 L1806.5,328.0 L1807.5,330.1 L1808.4,332.1 L1809.4,334.1 L1810.4,336.0 L1810.8,336.9 L1811.4,338.0 L1812.4,340.0 L1813.3,342.0 L1814.3,344.0 L1815.3,346.0 L1816.3,348.0 L1817.3,350.0 L1817.9,351.1 L1818.3,351.9 L1819.3,353.8 L1820.3,355.8 L1821.3,357.8 L1822.3,359.7 L1823.3,361.4 L1824.3,363.0 L1825.0,363.9 L1825.3,364.3 L1826.3,365.5 L1827.3,366.6 L1828.3,367.6 L1829.3,368.5 L1830.3,369.3 L1830.7,369.6 L1831.3,370.0 L1832.3,370.6 L1833.3,371.2 L1834.3,371.7 L1835.3,372.2 L1836.3,372.5 L1836.4,372.5 L1837.3,372.7 L1838.3,372.9 L1839.3,373.1 L1840.3,373.2 L1841.3,373.3 L1842.3,373.4 L1843.3,373.6 L1844.3,373.7 L1845.3,373.9 L1845.6,374.0 L1846.3,374.2 L1847.3,374.6 L1848.3,375.1 L1849.3,375.7 L1850.3,376.2 L1851.3,376.7 L1852.3,377.1 L1853.3,377.4 L1854.2,377.5 L1854.3,377.5 L1855.3,377.5 L1856.3,377.5 L1857.3,377.5 L1858.3,377.5 L1859.3,377.5 L1860.3,377.5 L1861.3,377.5 L1862.3,377.6 L1863.3,378.0 L1864.3,378.5 L1865.3,379.1 L1866.3,379.8 L1867.3,380.4 L1868.3,381.0 L1868.4,381.1 L1869.3,381.7 L1870.3,382.5 L1871.3,383.2 L1872.3,383.9 L1873.3,384.5 L1874.1,384.7 L1874.3,384.7 L1875.3,384.9 L1876.3,385.0 L1877.3,385.1 L1878.3,385.1 L1878.4,385.1 L1879.3,384.9 L1880.3,384.3 L1881.3,383.4 L1882.3,382.3 L1883.3,381.2 L1884.1,380.4 L1884.3,380.2 L1885.3,379.2 L1886.3,378.1 L1887.3,376.9 L1888.3,375.7 L1889.3,374.6 L1889.8,374.0 L1890.3,373.4 L1891.3,372.2 L1892.3,370.9 L1893.3,369.7 L1894.3,368.6 L1895.3,367.7 L1895.5,367.6 L1896.3,367.1 L1897.3,366.6 L1898.3,366.1 L1899.3,365.7 L1900.3,365.3 L1901.2,365.1 L1901.3,365.1 L1902.3,364.8 L1903.3,364.6 L1904.3,364.5 L1905.3,364.3 L1906.2,364.3 L1906.3,364.3 L1907.3,365.2 L1908.3,366.9 L1909.3,368.5 L1909.7,369.0 L1910.3,369.6 L1911.3,370.7 L1912.3,371.5 L1913.3,371.8 L1914.3,371.6 L1915.3,371.2 L1916.3,370.6 L1917.3,370.2 L1918.3,370.0 L1919.3,370.1 L1920.3,370.3 L1921.3,370.7 L1922.3,371.1 L1923.3,371.5 L1924.0,371.8 L1924.3,371.9 L1925.3,372.5 L1926.3,373.1 L1927.3,373.8 L1928.3,374.6 L1929.3,375.4 L1930.3,376.2 L1931.1,376.8 L1931.3,377.0 L1932.3,377.8 L1933.3,378.6 L1934.3,379.5 L1935.3,380.3 L1936.3,381.1 L1937.3,381.9 L1938.2,382.5 L1938.3,382.6 L1939.3,383.1 L1940.3,383.6 L1941.3,384.1 L1942.3,384.5 L1943.3,384.9 L1944.3,385.4 L1945.3,385.9 L1946.3,386.5 L1946.8,386.8 L1947.3,387.2 L1948.3,388.0 L1949.3,388.9 L1950.3,389.9 L1951.3,391.0 L1952.3,392.1 L1953.3,393.2 L1953.9,393.9 L1954.3,394.4 L1955.3,395.5 L1956.3,396.7 L1957.3,397.9 L1958.3,399.1 L1959.3,400.3 L1960.3,401.6 L1961.0,402.5 L1961.3,402.9 L1962.3,404.2 L1963.3,405.5 L1964.3,406.9 L1965.3,408.3 L1966.3,409.7 L1967.3,411.1 L1968.2,412.4 L1968.3,412.6 L1969.3,414.1 L1970.3,415.6 L1971.3,417.1 L1972.3,418.7 L1973.3,420.4 L1974.3,422.1 L1975.3,423.8 L1976.3,425.6 L1977.3,427.5 L1978.3,429.4 L1979.3,431.4 L1980.3,433.4 L1981.2,435.5 L1982.1,437.5 L1982.4,438.1 L1983.0,439.6 L1983.8,441.6 L1984.6,443.7 L1985.3,445.7 L1986.0,447.7 L1986.7,449.8 L1987.4,451.8 L1988.1,453.8 L1988.8,455.8 L1989.4,457.6 L1989.5,457.7 L1990.1,459.7 L1990.8,461.7 L1991.5,463.8 L1992.2,465.8 L1992.9,467.8 L1993.6,469.8 L1994.2,471.8 L1994.9,473.8 L1995.6,475.8 L1996.2,477.8 L1996.5,478.8 L1996.8,479.9 L1997.5,481.9 L1998.1,483.9 L1998.7,485.9 L1999.3,487.9 L1999.8,489.9 L2000.4,491.9 L2001.0,493.9 L2001.6,495.9 L2002.2,497.9 L2002.4,498.8 L2002.7,499.9 L2003.3,501.9 L2003.9,503.9 L2004.4,506.0 L2005.0,508.0 L2005.5,510.0 L2006.1,512.0 L2006.6,514.0 L2007.2,516.0 L2007.7,518.0 L2008.2,520.0 L2008.2,520.1 L2008.7,522.1 L2009.2,524.1 L2009.7,526.1 L2010.2,528.1 L2010.6,530.2 L2011.1,532.2 L2011.5,534.2 L2012.0,536.2 L2012.5,538.2 L2012.9,540.0 L2012.9,540.1 L2013.4,542.1 L2013.9,544.1 L2014.4,546.1 L2014.9,548.1 L2015.3,550.1 L2015.8,552.1 L2016.3,554.1 L2016.8,556.2 L2017.2,558.2 L2017.6,560.0 L2017.7,560.2 L2018.1,562.3 L2018.5,564.3 L2018.9,566.3 L2019.2,568.4 L2019.6,570.4 L2020.0,572.4 L2020.4,574.4 L2020.7,576.4 L2021.1,578.3 L2021.2,578.8 L2021.5,580.3 L2021.9,582.4 L2022.3,584.4 L2022.6,586.4 L2023.0,588.3 L2023.4,590.3 L2023.8,592.3 L2024.2,594.2 L2024.6,596.2 L2024.7,596.5 L2025.1,598.1 L2025.6,600.1 L2026.0,602.1 L2026.6,604.0 L2027.1,605.8 L2027.6,607.1 L2027.8,607.6 L2028.6,609.5 L2029.5,611.3 L2030.5,612.4 L2030.6,612.4 L2031.5,612.7 L2032.5,612.9 L2032.9,612.9 L2033.5,612.6 L2034.5,611.0 L2035.3,609.4 L2035.5,608.8 L2036.3,606.3 L2036.8,604.1 L2037.1,602.4 L2037.2,601.9 L2037.5,599.6 L2037.8,597.5 L2038.0,595.4 L2038.2,593.3 L2038.4,591.3 L2038.6,589.3 L2038.8,587.3 L2038.8,587.1 L2039.0,585.2 L2039.1,583.1 L2039.3,581.1 L2039.5,579.0 L2039.6,577.0 L2039.8,575.0 L2039.9,573.0 L2040.1,571.0 L2040.2,569.0 L2040.3,567.0 L2040.5,565.0 L2040.6,563.5 L2040.6,563.0 L2040.8,561.0 L2040.9,559.0 L2041.1,557.0 L2041.3,555.0 L2041.4,553.0 L2041.6,551.0 L2041.7,549.0 L2041.9,547.0 L2042.0,545.0 L2042.2,543.0 L2042.3,541.0 L2042.4,540.0 L2042.5,539.0 L2042.6,537.0 L2042.8,535.0 L2042.9,533.0 L2043.1,531.0 L2043.2,529.0 L2043.3,527.0 L2043.5,525.0 L2043.6,523.0 L2043.8,521.0 L2043.9,519.0 L2044.1,517.0 L2044.1,516.5 L2044.2,515.0 L2044.4,513.0 L2044.5,511.1 L2044.7,509.1 L2044.8,507.1 L2045.0,505.1 L2045.2,503.1 L2045.3,501.0 L2045.5,499.0 L2045.6,497.0 L2045.8,495.0 L2045.9,492.9 L2046.0,490.9 L2046.2,488.9 L2046.3,486.8 L2046.4,484.8 L2046.5,482.7 L2046.7,480.6 L2046.8,478.4 L2046.9,476.2 L2047.0,474.0 L2047.2,471.8 L2047.3,469.6 L2047.3,469.4 L2047.4,467.2 L2047.5,464.7 L2047.7,462.2 L2047.8,459.5 L2047.9,456.8 L2048.0,454.2 L2048.2,451.5 L2048.3,448.9 L2048.4,446.5 L2048.5,444.2 L2048.7,442.0 L2048.8,440.1 L2048.8,440.0 L2048.9,438.2 L2049.1,436.3 L2049.3,434.4 L2049.4,432.5 L2049.6,430.5 L2049.8,428.4 L2050.0,426.4 L2050.1,425.3 L2050.2,424.3 L2050.3,422.3 L2050.5,420.2 L2050.7,418.2 L2050.8,416.2 L2051.0,414.2 L2051.1,412.2 L2051.3,410.2 L2051.4,408.2 L2051.5,406.2 L2051.7,404.2 L2051.9,402.2 L2052.0,400.3 L2052.2,398.3 L2052.3,396.8 L2052.3,396.4 L2052.5,394.4 L2052.7,392.4 L2052.9,390.4 L2053.1,388.4 L2053.3,386.5 L2053.5,384.5 L2053.7,382.5 L2053.9,380.5 L2054.1,378.5 L2054.3,376.5 L2054.5,374.5 L2054.7,372.5 L2054.9,370.5 L2055.1,368.5 L2055.1,368.3 L2055.3,366.5 L2055.5,364.5 L2055.7,362.5 L2055.9,360.5 L2056.1,358.5 L2056.3,356.5 L2056.5,354.5 L2056.6,352.5 L2056.8,350.5 L2057.0,348.5 L2057.3,346.5 L2057.5,344.6 L2057.7,342.6 L2057.9,340.6 L2058.0,339.8 L2058.1,338.7 L2058.4,336.7 L2058.6,334.7 L2058.9,332.7 L2059.1,330.7 L2059.4,328.7 L2059.6,326.8 L2059.9,324.8 L2060.2,322.8 L2060.4,320.9 L2060.7,318.9 L2061.0,316.9 L2061.3,315.0 L2061.5,314.1 L2061.7,313.1 L2062.0,311.1 L2062.4,309.2 L2062.8,307.2 L2063.3,305.3 L2063.7,303.3 L2064.2,301.3 L2064.6,299.3 L2065.1,297.2 L2065.1,297.0 L2065.5,295.2 L2065.9,293.2 L2066.3,291.2 L2066.7,289.2 L2067.1,287.2 L2067.5,285.2 L2067.9,283.2 L2068.3,281.2 L2068.7,279.2 L2069.1,277.2 L2069.4,275.6 L2069.5,275.2 L2069.9,273.2 L2070.2,271.5"/>
<path class="curve" stroke="#ff0000" d="M212.4,740.4 L213.4,740.6 L214.4,740.7 L215.4,740.9 L216.4,741.0 L217.4,741.2 L218.4,741.4 L219.4,741.5 L220.4,741.7 L221.4,741.9 L222.4,742.1 L223.4,742.3 L224.4,742.5 L225.4,742.7 L226.4,742.9 L227.4,743.1 L228.4,743.3 L229.4,743.5 L230.4,743.7 L231.4,743.8 L232.4,743.9 L233.4,744.0 L234.4,744.1 L235.4,744.2 L236.4,744.3 L237.4,744.4 L238.4,744.4 L239.4,744.5 L240.4,744.6 L241.4,744.7 L242.4,744.8 L242.8,744.8 L243.4,744.9 L244.4,745.0 L245.4,745.1 L246.4,745.2 L247.4,745.3 L248.4,745.4 L249.4,745.5 L250.4,745.6 L251.4,745.7 L252.4,745.7 L252.7,745.7 L253.4,745.7 L254.4,745.7 L255.4,745.7 L256.4,745.7 L257.4,745.7 L258.4,745.7 L259.4,745.7 L260.4,745.7 L261.4,745.7 L262.4,745.7 L262.7,745.7 L263.4,745.7 L264.4,745.7 L265.4,745.7 L266.4,745.6 L267.4,745.6 L268.4,745.5 L269.4,745.4 L270.4,745.4 L271.4,745.3 L272.4,745.2 L272.7,745.2 L273.4,745.1 L274.4,745.0 L275.4,744.8 L276.4,744.6 L277.4,744.4 L278.4,744.2 L279.4,744.0 L280.4,743.7 L281.4,743.5 L282.4,743.4 L282.7,743.3 L283.4,743.2 L284.4,743.0 L285.4,742.9 L286.4,742.7 L287.4,742.6 L288.4,742.4 L289.4,742.3 L290.4,742.2 L291.4,742.0 L292.4,741.9 L292.6,741.9 L293.4,741.8 L294.4,741.7 L295.4,741.6 L296.4,741.5 L297.4,741.4 L298.4,741.3 L299.4,741.2 L300.4,741.1 L301.4,741.0 L302.4,740.9 L302.6,740.9 L303.4,740.8 L304.4,740.7 L305.4,740.6 L306.4,740.5 L307.4,740.4 L308.4,740.3 L309.4,740.2 L310.4,740.1 L311.4,740.0 L312.4,739.9 L313.4,739.8 L314.0,739.8 L314.4,739.8 L315.4,739.7 L316.4,739.6 L317.4,739.5 L318.4,739.4 L319.4,739.4 L320.4,739.3 L321.4,739.2 L322.4,739.2 L323.4,739.1 L324.4,739.1 L325.4,739.1 L326.4,739.1 L327.4,739.1 L328.4,739.1 L329.4,739.1 L330.4,739.1 L331.4,739.1 L332.4,739.1 L333.4,739.1 L334.4,739.1 L335.4,739.1 L336.4,739.1 L337.4,739.1 L338.4,739.2 L339.4,739.2 L340.4,739.3 L341.4,739.3 L342.4,739.4 L343.4,739.5 L343.9,739.5 L344.4,739.5 L345.4,739.7 L346.4,739.8 L347.4,740.0 L348.4,740.2 L349.4,740.5 L350.4,740.7 L351.1,740.9 L351.4,741.0 L352.4,741.3 L353.4,741.6 L354.4,741.9 L355.4,742.3 L356.4,742.6 L357.4,743.0 L358.4,743.4 L359.4,743.7 L359.6,743.8 L360.4,744.1 L361.4,744.4 L362.4,744.8 L363.4,745.2 L364.4,745.6 L365.4,745.9 L366.4,746.3 L367.4,746.6 L368.2,746.9 L368.4,747.0 L369.4,747.3 L370.4,747.6 L371.4,748.0 L372.4,748.3 L373.4,748.6 L374.4,748.9 L375.4,749.2 L376.4,749.4 L376.7,749.5 L377.4,749.6 L378.4,749.9 L379.4,750.0 L380.4,750.2 L381.4,750.4 L382.4,750.5 L383.4,750.7 L384.4,750.8 L385.4,751.0 L386.4,751.1 L387.4,751.3 L388.1,751.4 L388.4,751.4 L389.4,751.6 L390.4,751.7 L391.4,751.9 L392.4,752.0 L393.4,752.2 L394.4,752.3 L395.4,752.5 L396.4,752.6 L397.4,752.7 L398.4,752.9 L399.4,753.0 L399.5,753.0 L400.4,753.1 L401.4,753.3 L402.4,753.4 L403.4,753.5 L404.4,753.7 L405.4,753.8 L406.4,753.9 L407.4,754.0 L408.4,754.1 L409.4,754.3 L410.4,754.4 L410.9,754.4 L411.4,754.4 L412.4,754.5 L413.4,754.6 L414.4,754.7 L415.4,754.8 L416.4,754.9 L417.4,755.0 L418.4,755.1 L419.4,755.1 L420.4,755.2 L421.4,755.2 L422.3,755.2 L422.4,755.2 L423.4,755.2 L424.4,755.2 L425.4,755.2 L426.4,755.2 L427.4,755.2 L428.4,755.2 L429.4,755.2 L430.4,755.2 L431.4,755.1 L432.4,755.1 L433.4,755.1 L434.4,755.1 L435.4,755.1 L436.4,755.1 L437.4,755.1 L438.4,755.1 L439.4,755.0 L440.4,755.0 L441.4,755.0 L442.3,755.0 L442.4,755.0 L443.4,755.0 L444.4,755.0 L445.4,754.9 L446.4,754.9 L447.4,754.9 L448.4,754.9 L449.4,754.9 L450.4,754.8 L451.4,754.8 L452.4,754.8 L453.4,754.8 L454.4,754.7 L455.4,754.7 L456.4,754.7 L456.5,754.7 L457.4,754.7 L458.4,754.7 L459.4,754.6 L460.4,754.6 L461.4,754.6 L462.4,754.6 L463.4,754.6 L464.4,754.6 L465.4,754.5 L466.4,754.5 L467.4,754.5 L468.4,754.5 L469.4,754.4 L470.4,754.4 L470.8,754.4 L471.4,754.4 L472.4,754.3 L473.4,754.3 L474.4,754.2 L475.4,754.1 L476.4,754.1 L477.4,754.0 L478.4,753.9 L479.4,753.8 L480.0,753.7 L480.4,753.7 L481.4,753.5 L482.4,753.4 L483.4,753.3 L484.4,753.1 L485.4,752.9 L486.4,752.7 L487.4,752.5 L488.4,752.3 L489.4,752.1 L490.4,751.8 L491.4,751.5 L492.4,751.2 L493.4,750.8 L494.4,750.3 L495.4,749.8 L496.4,749.4 L497.4,748.9 L498.4,748.4 L499.4,747.9 L500.4,747.4 L501.4,746.9 L502.4,746.3 L503.4,745.8 L504.4,745.2 L505.4,744.7 L506.4,744.3 L507.2,744.0 L507.4,743.9 L508.4,743.6 L509.4,743.3 L510.4,743.0 L511.4,742.8 L512.4,742.6 L513.4,742.4 L513.6,742.4 L514.4,742.3 L515.4,742.2 L516.4,742.2 L517.4,742.1 L518.4,742.0 L519.4,742.0 L520.1,742.0 L520.4,742.0 L521.4,742.1 L522.4,742.3 L523.4,742.6 L524.4,742.9 L525.3,743.3 L525.4,743.3 L526.4,744.0 L527.4,745.1 L528.4,746.5 L529.2,747.9 L529.4,748.3 L530.3,750.9 L530.9,753.1 L531.4,755.2 L531.8,756.9 L531.9,757.3 L532.3,759.6 L532.6,761.7 L532.9,763.8 L533.1,765.8 L533.4,767.8 L533.7,769.7 L533.7,769.9 L534.0,771.7 L534.3,773.7 L534.5,775.7 L534.8,777.7 L535.1,779.7 L535.4,781.6 L535.6,782.8 L535.7,783.6 L536.0,785.6 L536.4,787.6 L536.7,789.5 L537.0,791.5 L537.4,793.4 L537.6,794.4 L537.8,795.3 L538.2,797.3 L538.6,799.2 L539.1,801.0 L539.5,802.2 L539.7,802.6 L540.6,804.5 L541.6,805.8 L542.1,806.1 L542.6,806.2 L543.6,806.2 L544.6,806.3 L545.6,806.3 L546.0,806.4 L546.6,806.7 L547.6,808.0 L548.6,810.0 L549.5,813.6 L549.8,815.8 L550.1,817.8 L550.4,819.8 L550.5,820.3 L550.7,821.9 L551.0,824.0 L551.3,826.0 L551.5,828.1 L551.7,830.1 L552.0,832.1 L552.2,834.1 L552.4,836.1 L552.5,837.1 L552.6,838.1 L552.8,840.2 L553.0,842.2 L553.3,844.2 L553.5,846.2 L553.7,848.2 L553.9,850.2 L554.1,852.2 L554.3,854.2 L554.4,855.3 L554.5,856.1 L554.7,858.1 L554.9,860.1 L555.1,862.1 L555.4,864.1 L555.6,866.1 L555.8,868.1 L556.0,870.0 L556.3,872.0 L556.3,872.1 L556.5,874.0 L556.8,876.0 L557.1,877.9 L557.3,879.9 L557.6,881.9 L557.9,883.8 L558.2,885.7 L558.3,886.3 L558.5,887.7 L558.9,889.6 L559.3,891.6 L559.6,893.4 L560.1,895.1 L560.2,895.4 L560.8,897.0 L561.5,898.0 L561.6,898.0 L562.6,895.1 L563.0,892.9 L563.4,890.9 L563.5,890.2 L563.7,888.7 L564.0,886.5 L564.3,884.4 L564.5,882.4 L564.7,880.3 L564.9,878.3 L565.1,876.3 L565.3,874.4 L565.4,873.4 L565.5,872.4 L565.7,870.4 L565.9,868.3 L566.1,866.3 L566.3,864.3 L566.5,862.3 L566.7,860.3 L566.9,858.3 L567.1,856.4 L567.4,854.4 L567.6,852.4 L567.8,850.5 L568.0,848.8 L568.0,848.5 L568.3,846.6 L568.5,844.6 L568.8,842.6 L569.1,840.6 L569.3,838.7 L569.6,836.7 L569.9,834.8 L570.2,832.8 L570.6,830.9 L570.6,830.7 L570.9,828.9 L571.3,826.9 L571.7,825.0 L572.1,823.0 L572.5,821.1 L572.9,819.1 L573.3,817.1 L573.8,815.2 L574.3,813.2 L574.8,811.3 L575.3,809.3 L575.9,807.4 L576.4,805.4 L577.0,803.5 L577.0,803.4 L577.6,801.4 L578.2,799.4 L578.8,797.5 L579.5,795.6 L580.3,793.9 L580.3,793.8 L581.3,792.0 L582.3,790.5 L583.3,789.5 L583.5,789.3 L584.3,788.8 L585.3,788.3 L586.1,788.2 L586.3,788.2 L587.3,788.6 L588.3,789.5 L589.3,790.6 L590.3,792.4 L591.1,794.7 L591.8,796.8 L592.4,798.8 L592.6,799.6 L593.0,800.9 L593.5,803.0 L593.9,805.1 L594.3,807.1 L594.8,809.2 L595.2,811.1 L595.2,811.3 L595.6,813.3 L596.0,815.3 L596.3,817.3 L596.7,819.3 L597.0,821.2 L597.4,823.1 L597.7,824.2 L597.9,824.9 L598.4,826.8 L599.1,828.7 L599.8,830.4 L600.3,831.3 L600.7,831.8 L601.7,832.8 L602.7,833.3 L602.9,833.3 L603.7,832.1 L604.5,829.6 L604.9,828.1 L605.0,827.5 L605.5,825.0 L605.7,822.8 L606.0,820.8 L606.2,818.7 L606.5,816.8 L606.7,814.8 L606.8,813.9 L606.9,812.8 L607.2,810.8 L607.4,808.8 L607.6,806.8 L607.9,804.8 L608.1,802.8 L608.3,800.9 L608.6,799.0 L608.7,798.3 L608.9,797.1 L609.2,795.1 L609.5,793.1 L609.9,791.2 L610.2,789.2 L610.6,787.3 L611.0,785.4 L611.3,784.1 L611.4,783.5 L611.9,781.6 L612.5,779.7 L613.1,777.8 L613.7,775.9 L614.5,774.0 L614.6,773.7 L615.3,772.1 L616.3,770.3 L617.3,768.5 L618.3,766.9 L619.3,765.3 L619.7,764.7 L620.3,763.9 L621.3,762.5 L622.3,761.2 L623.3,760.0 L624.3,758.9 L625.3,757.8 L626.2,756.9 L626.3,756.9 L627.3,756.0 L628.3,755.2 L629.3,754.4 L630.3,753.7 L631.3,753.1 L632.3,752.4 L633.3,751.8 L634.3,751.2 L635.3,750.5 L636.3,749.9 L637.3,749.3 L638.3,748.7 L639.3,748.1 L640.3,747.5 L641.3,746.9 L642.3,746.4 L643.3,745.8 L644.3,745.3 L645.3,744.7 L646.3,744.2 L647.3,743.7 L648.2,743.3 L648.3,743.3 L649.3,742.8 L650.3,742.4 L651.3,741.9 L652.3,741.5 L653.3,741.1 L654.3,740.7 L655.3,740.3 L656.3,739.9 L657.3,739.6 L658.3,739.2 L659.3,738.8 L660.3,738.5 L661.1,738.2 L661.3,738.1 L662.3,737.8 L663.3,737.5 L664.3,737.2 L665.3,736.9 L666.3,736.6 L667.3,736.3 L668.3,736.0 L669.3,735.7 L670.3,735.4 L671.3,735.1 L672.3,734.8 L673.3,734.6 L674.1,734.3 L674.3,734.3 L675.3,733.9 L676.3,733.6 L677.3,733.3 L678.3,733.0 L679.3,732.7 L680.3,732.4 L681.3,732.0 L682.3,731.7 L683.3,731.4 L684.3,731.1 L685.3,730.9 L686.3,730.6 L687.0,730.4 L687.3,730.3 L688.3,730.1 L689.3,729.8 L690.3,729.6 L691.3,729.4 L692.3,729.2 L693.3,728.9 L694.3,728.7 L695.3,728.5 L696.3,728.3 L697.3,728.1 L698.3,727.9 L699.3,727.7 L700.0,727.6 L700.3,727.6 L701.3,727.4 L702.3,727.2 L703.3,727.1 L704.3,726.9 L705.3,726.7 L706.3,726.6 L707.3,726.4 L708.3,726.3 L709.3,726.2 L710.3,726.0 L711.3,725.9 L712.3,725.7 L713.3,725.6 L714.3,725.5 L715.3,725.3 L716.3,725.2 L717.3,725.0 L718.3,724.9 L719.3,724.7 L720.3,724.6 L721.3,724.4 L721.4,724.4 L722.3,724.3 L723.3,724.1 L724.3,723.9 L725.3,723.7 L726.3,723.6 L727.3,723.4 L728.3,723.2 L729.3,723.0 L730.3,722.8 L731.3,722.6 L732.3,722.4 L733.3,722.3 L734.3,722.1 L735.3,721.9 L736.3,721.7 L737.3,721.5 L738.3,721.3 L739.3,721.1 L740.3,721.0 L741.3,720.8 L742.3,720.6 L742.8,720.5 L743.3,720.4 L744.3,720.2 L745.3,720.1 L746.3,719.9 L747.3,719.7 L748.3,719.6 L749.3,719.4 L750.3,719.2 L751.3,719.1 L752.3,718.9 L753.3,718.7 L754.3,718.6 L755.3,718.4 L756.3,718.2 L757.3,718.1 L758.3,717.9 L759.3,717.7 L760.3,717.6 L761.3,717.4 L762.3,717.3 L763.3,717.1 L764.1,717.0 L764.3,717.0 L765.3,716.8 L766.3,716.7 L767.3,716.5 L768.3,716.4 L769.3,716.2 L770.3,716.1 L771.3,715.9 L772.3,715.8 L773.3,715.6 L774.3,715.5 L775.3,715.4 L776.3,715.2 L777.3,715.1 L778.3,714.9 L779.3,714.8 L780.3,714.7 L781.3,714.6 L782.3,714.5 L783.3,714.3 L784.3,714.2 L785.3,714.1 L785.5,714.1 L786.3,714.0 L787.3,713.9 L788.3,713.8 L789.3,713.7 L790.3,713.7 L791.3,713.6 L792.3,713.5 L793.3,713.4 L794.3,713.3 L795.3,713.3 L796.3,713.2 L797.3,713.1 L798.3,713.0 L799.3,713.0 L800.3,712.9 L801.3,712.8 L802.3,712.7 L803.3,712.7 L804.3,712.6 L805.3,712.5 L806.3,712.4 L806.9,712.4 L807.3,712.4 L808.3,712.3 L809.3,712.2 L810.3,712.1 L811.3,712.1 L812.3,712.0 L813.3,711.9 L814.3,711.8 L815.3,711.8 L816.3,711.7 L817.3,711.6 L818.3,711.5 L819.3,711.4 L820.3,711.4 L821.3,711.3 L822.3,711.2 L823.3,711.2 L824.3,711.1 L825.3,711.0 L826.3,710.9 L827.3,710.9 L828.3,710.8 L829.3,710.7 L830.3,710.7 L831.3,710.6 L832.3,710.5 L833.3,710.5 L834.3,710.4 L835.3,710.3 L836.3,710.3 L837.3,710.2 L838.3,710.2 L839.3,710.1 L840.3,710.0 L841.3,710.0 L842.3,709.9 L843.3,709.9 L844.3,709.8 L845.3,709.7 L846.3,709.7 L847.3,709.6 L848.3,709.6 L849.3,709.5 L849.6,709.5 L850.3,709.5 L851.3,709.4 L852.3,709.4 L853.3,709.3 L854.3,709.3 L855.3,709.2 L856.3,709.2 L857.3,709.2 L858.3,709.1 L859.3,709.1 L860.3,709.0 L861.3,709.0 L862.3,708.9 L863.3,708.8 L863.9,708.8 L864.3,708.8 L865.3,708.7 L866.3,708.6 L867.3,708.5 L868.3,708.5 L869.3,708.4 L870.3,708.3 L871.3,708.2 L872.3,708.1 L873.3,707.9 L874.3,707.8 L875.3,707.7 L876.3,707.6 L877.3,707.4 L878.3,707.3 L879.3,707.2 L880.3,707.0 L881.3,706.9 L882.3,706.7 L882.4,706.7 L883.3,706.5 L884.3,706.3 L885.3,706.0 L886.3,705.7 L887.3,705.4 L888.3,705.2 L889.3,705.0 L890.3,704.8 L891.0,704.8 L891.3,704.8 L892.3,705.0 L893.3,705.2 L894.3,705.6 L895.3,706.0 L896.3,706.4 L897.3,706.8 L898.3,707.0 L898.8,707.0 L899.3,707.0 L900.3,706.8 L901.3,706.5 L902.3,706.2 L903.3,705.9 L904.3,705.7 L905.2,705.6 L905.3,705.6 L906.3,705.6 L907.3,705.6 L908.3,705.6 L909.3,705.7 L910.3,705.7 L911.3,705.7 L912.3,705.8 L913.3,705.8 L914.3,705.8 L915.3,705.9 L916.3,705.9 L917.3,706.0 L918.3,706.0 L919.3,706.1 L920.3,706.1 L921.3,706.2 L922.3,706.2 L923.3,706.2 L924.3,706.2 L925.3,706.3 L926.3,706.3 L927.3,706.3 L928.0,706.3 L928.3,706.3 L929.3,706.3 L930.3,706.2 L931.3,706.2 L932.3,706.1 L933.3,706.0 L934.3,705.9 L935.3,705.8 L936.3,705.7 L937.3,705.6 L938.3,705.5 L939.3,705.4 L940.3,705.3 L941.3,705.3 L942.3,705.2 L943.3,705.1 L944.3,705.1 L945.1,705.1 L945.3,705.1 L946.3,705.1 L947.3,705.1 L948.3,705.1 L949.3,705.1 L950.3,705.1 L951.3,705.1 L952.3,705.1 L953.3,705.1 L954.3,705.1 L955.3,705.2 L956.3,705.2 L957.3,705.2 L958.3,705.2 L959.3,705.2 L960.3,705.2 L961.3,705.2 L962.3,705.2 L963.3,705.3 L964.3,705.3 L965.3,705.3 L966.3,705.3 L966.5,705.3 L967.3,705.3 L968.3,705.3 L969.3,705.4 L970.3,705.4 L971.3,705.4 L972.3,705.5 L973.3,705.5 L974.3,705.5 L975.3,705.6 L976.3,705.6 L977.3,705.6 L978.3,705.7 L979.3,705.7 L980.3,705.7 L981.3,705.8 L982.3,705.8 L983.3,705.8 L984.3,705.8 L985.0,705.8 L985.3,705.8 L986.3,705.8 L987.3,705.8 L988.3,705.7 L989.3,705.7 L990.3,705.7 L991.3,705.6 L992.3,705.6 L993.3,705.5 L994.3,705.5 L995.3,705.4 L996.3,705.4 L997.3,705.3 L998.3,705.3 L999.3,705.3 L1000.0,705.3 L1000.3,705.3 L1001.3,705.3 L1002.3,705.3 L1003.3,705.3 L1004.3,705.3 L1005.3,705.3 L1006.3,705.3 L1007.3,705.3 L1008.3,705.3 L1009.3,705.4 L1010.3,705.4 L1011.3,705.4 L1012.3,705.4 L1013.3,705.4 L1014.3,705.4 L1015.3,705.4 L1016.3,705.5 L1017.3,705.5 L1018.3,705.5 L1019.3,705.5 L1020.3,705.5 L1021.3,705.5 L1022.3,705.6 L1023.3,705.6 L1024.3,705.6 L1025.3,705.6 L1026.3,705.6 L1027.3,705.6 L1028.3,705.7 L1029.3,705.7 L1030.3,705.7 L1031.3,705.7 L1032.3,705.7 L1033.3,705.7 L1034.3,705.7 L1035.3,705.8 L1036.3,705.8 L1037.3,705.8 L1038.3,705.8 L1039.3,705.8 L1040.3,705.8 L1041.3,705.8 L1042.3,705.8 L1042.8,705.8 L1043.3,705.8 L1044.3,705.8 L1045.3,705.8 L1046.3,705.8 L1047.3,705.8 L1048.3,705.8 L1049.3,705.8 L1050.3,705.8 L1051.3,705.8 L1052.3,705.8 L1053.3,705.8 L1054.3,705.8 L1055.3,705.8 L1056.3,705.8 L1057.3,705.8 L1058.3,705.8 L1059.3,705.8 L1060.3,705.8 L1061.3,705.8 L1062.3,705.8 L1063.3,705.8 L1064.3,705.8 L1065.3,705.8 L1066.3,705.8 L1067.3,705.8 L1068.3,705.8 L1069.3,705.8 L1070.3,705.8 L1071.3,705.8 L1072.3,705.8 L1073.3,705.8 L1074.3,705.8 L1075.3,705.8 L1076.3,705.8 L1077.3,705.8 L1078.3,705.8 L1079.3,705.8 L1080.3,705.8 L1081.3,705.8 L1082.3,705.8 L1083.3,705.8 L1084.3,705.8 L1085.3,705.8 L1085.5,705.8 L1086.3,705.8 L1087.3,705.8 L1088.3,705.8 L1089.3,705.8 L1090.3,705.8 L1091.3,705.8 L1092.3,705.8 L1093.3,705.8 L1094.3,705.8 L1095.3,705.8 L1096.3,705.8 L1097.3,705.8 L1098.3,705.8 L1099.3,705.8 L1100.3,705.8 L1101.3,705.8 L1102.3,705.8 L1103.3,705.8 L1104.3,705.8 L1105.3,705.8 L1106.3,705.8 L1107.3,705.8 L1108.3,705.8 L1109.3,705.8 L1110.3,705.8 L1111.3,705.8 L1112.3,705.8 L1113.3,705.8 L1114.3,705.8 L1115.3,705.8 L1116.3,705.8 L1117.3,705.8 L1118.3,705.8 L1119.3,705.8 L1120.3,705.8 L1121.3,705.8 L1122.3,705.8 L1123.3,705.8 L1124.3,705.8 L1125.3,705.8 L1126.3,705.8 L1127.3,705.8 L1128.3,705.8 L1129.3,705.8 L1130.3,705.8 L1131.3,705.8 L1132.3,705.8 L1133.3,705.8 L1134.3,705.8 L1135.3,705.8 L1136.3,705.8 L1137.3,705.8 L1138.3,705.8 L1139.3,705.8 L1140.3,705.8 L1141.3,705.8 L1142.3,705.8 L1143.3,705.8 L1144.3,705.8 L1145.3,705.8 L1146.3,705.7 L1147.3,705.7 L1148.3,705.7 L1149.3,705.7 L1150.3,705.7 L1151.3,705.7 L1152.3,705.7 L1153.3,705.7 L1154.3,705.7 L1155.3,705.7 L1156.3,705.7 L1157.3,705.7 L1158.3,705.7 L1159.3,705.7 L1160.3,705.7 L1161.3,705.7 L1162.3,705.7 L1163.3,705.6 L1164.3,705.6 L1165.3,705.6 L1166.3,705.6 L1167.3,705.6 L1168.3,705.6 L1169.3,705.6 L1170.3,705.6 L1171.0,705.6 L1171.3,705.6 L1172.3,705.6 L1173.3,705.6 L1174.3,705.6 L1175.3,705.6 L1176.3,705.6 L1177.3,705.6 L1178.3,705.6 L1179.3,705.6 L1180.3,705.6 L1181.3,705.5 L1182.3,705.5 L1183.3,705.5 L1184.3,705.5 L1185.3,705.5 L1186.3,705.5 L1187.3,705.5 L1188.3,705.5 L1189.3,705.5 L1190.3,705.5 L1191.3,705.5 L1192.3,705.5 L1193.3,705.5 L1194.3,705.5 L1195.3,705.5 L1196.3,705.5 L1197.3,705.5 L1198.3,705.4 L1199.3,705.4 L1200.3,705.4 L1201.3,705.4 L1202.3,705.4 L1203.3,705.4 L1204.3,705.4 L1205.3,705.4 L1206.3,705.4 L1207.3,705.4 L1208.3,705.4 L1209.3,705.4 L1210.3,705.3 L1211.3,705.3 L1212.3,705.3 L1213.3,705.3 L1213.8,705.3 L1214.3,705.3 L1215.3,705.3 L1216.3,705.3 L1217.3,705.2 L1218.3,705.2 L1219.3,705.2 L1220.3,705.1 L1221.3,705.1 L1222.3,705.1 L1223.3,705.0 L1224.3,705.0 L1225.3,704.9 L1226.3,704.9 L1227.3,704.8 L1228.3,704.8 L1229.3,704.8 L1230.3,704.7 L1231.3,704.7 L1232.3,704.6 L1233.3,704.6 L1234.3,704.6 L1235.3,704.5 L1236.3,704.5 L1237.3,704.5 L1238.3,704.4 L1239.3,704.4 L1240.3,704.4 L1241.3,704.4 L1242.3,704.4 L1243.3,704.4 L1244.3,704.4 L1245.3,704.5 L1246.3,704.5 L1247.3,704.6 L1248.3,704.6 L1249.3,704.7 L1250.3,704.7 L1251.3,704.8 L1252.3,704.8 L1253.3,704.8 L1253.7,704.8 L1254.3,704.8 L1255.3,704.7 L1256.3,704.7 L1257.3,704.6 L1258.3,704.4 L1259.3,704.3 L1260.0,704.2 L1260.3,704.2 L1261.3,704.0 L1262.3,703.7 L1263.3,703.5 L1264.3,703.2 L1265.3,703.0 L1266.3,702.8 L1267.1,702.8 L1267.3,702.8 L1268.3,702.8 L1269.3,703.0 L1270.3,703.1 L1271.3,703.4 L1272.3,703.6 L1273.3,704.0 L1274.3,704.3 L1275.3,704.7 L1275.7,704.9 L1276.3,705.2 L1277.3,706.2 L1278.3,707.6 L1279.3,709.1 L1280.3,710.6 L1281.3,711.8 L1281.4,712.0 L1282.3,712.9 L1283.3,713.8 L1284.3,714.7 L1285.3,715.6 L1286.3,716.4 L1287.3,717.3 L1288.3,718.2 L1288.5,718.4 L1289.3,719.1 L1290.3,720.0 L1291.3,720.9 L1292.3,721.7 L1293.3,722.6 L1294.3,723.5 L1295.3,724.5 L1296.3,725.4 L1297.1,726.3 L1297.3,726.5 L1298.3,727.5 L1299.3,728.6 L1300.3,729.8 L1301.3,730.9 L1302.3,732.1 L1303.3,733.4 L1304.3,734.6 L1305.3,735.8 L1305.6,736.2 L1306.3,737.0 L1307.3,738.2 L1308.3,739.5 L1309.3,740.7 L1310.3,742.0 L1311.3,743.2 L1312.3,744.5 L1313.3,745.7 L1314.2,746.9 L1314.3,747.0 L1315.3,748.2 L1316.3,749.3 L1317.3,750.5 L1318.3,751.6 L1319.3,752.8 L1320.3,754.0 L1321.3,755.1 L1322.3,756.3 L1322.7,756.9 L1323.3,757.6 L1324.3,758.8 L1325.3,760.1 L1326.3,761.3 L1327.3,762.6 L1328.3,764.0 L1329.3,765.4 L1329.8,766.2 L1330.3,766.9 L1331.3,768.7 L1332.3,770.5 L1333.3,772.2 L1334.1,773.3 L1334.3,773.5 L1335.3,774.5 L1336.3,775.5 L1337.3,776.3 L1338.3,776.8 L1338.4,776.9 L1339.3,777.2 L1340.3,777.5 L1341.3,777.8 L1342.3,777.9 L1342.7,777.9 L1343.3,777.9 L1344.3,777.6 L1345.3,777.2 L1346.3,776.6 L1346.9,776.2 L1347.3,776.0 L1348.3,774.9 L1349.3,773.6 L1350.3,772.1 L1351.2,770.5 L1351.3,770.4 L1352.3,768.5 L1353.2,766.4 L1354.1,764.4 L1354.9,762.4 L1355.5,761.2 L1355.8,760.5 L1356.8,758.6 L1357.8,756.7 L1358.8,754.7 L1359.8,752.6 L1360.7,750.4 L1361.4,748.4 L1362.1,746.3 L1362.8,744.3 L1363.5,742.4 L1364.0,741.2 L1364.3,740.5 L1365.1,738.5 L1365.9,736.5 L1366.8,734.6 L1367.7,732.6 L1368.3,731.3 L1368.6,730.7 L1369.6,728.7 L1370.5,726.7 L1371.5,724.9 L1372.5,723.5 L1372.6,723.4 L1373.5,722.5 L1374.5,721.6 L1375.5,720.9 L1376.5,720.2 L1377.5,719.6 L1378.3,719.1 L1378.5,719.0 L1379.5,718.2 L1380.5,717.5 L1381.5,716.8 L1382.5,716.3 L1383.5,715.9 L1384.0,715.9 L1384.5,715.9 L1385.5,715.9 L1386.5,716.0 L1387.5,716.0 L1388.5,716.1 L1389.5,716.2 L1390.5,716.2 L1391.1,716.3 L1391.5,716.3 L1392.5,716.4 L1393.5,716.6 L1394.5,716.8 L1395.4,717.0 L1395.5,717.0 L1396.5,717.8 L1397.5,719.0 L1398.5,720.3 L1399.5,721.2 L1399.7,721.3 L1400.5,721.7 L1401.5,722.2 L1402.5,722.5 L1403.5,722.7 L1403.9,722.7 L1404.5,722.7 L1405.5,722.6 L1406.5,722.5 L1407.5,722.4 L1408.5,722.2 L1409.5,722.0 L1409.6,722.0 L1410.5,721.7 L1411.5,721.3 L1412.5,720.8 L1413.5,720.2 L1414.5,719.7 L1415.5,719.3 L1416.5,719.1 L1416.8,719.1 L1417.5,719.1 L1418.5,719.1 L1419.5,719.2 L1420.5,719.2 L1421.5,719.3 L1422.5,719.4 L1423.5,719.5 L1423.9,719.6 L1424.5,720.9 L1425.1,723.4 L1425.4,725.4 L1425.8,727.4 L1426.0,728.4 L1426.2,729.3 L1426.6,731.3 L1427.0,733.4 L1427.4,735.4 L1427.7,737.4 L1428.1,739.3 L1428.2,739.8 L1428.5,741.3 L1428.9,743.4 L1429.3,745.3 L1429.7,747.3 L1430.1,749.1 L1430.3,749.8 L1430.6,750.9 L1431.2,752.9 L1431.9,754.6 L1432.4,755.5 L1432.8,755.9 L1433.8,756.7 L1434.6,756.9 L1434.8,756.9 L1435.8,756.2 L1436.8,755.0 L1437.4,754.1 L1437.8,753.5 L1438.8,751.4 L1439.6,749.2 L1440.3,747.3 L1441.0,745.5 L1441.1,745.4 L1441.9,743.3 L1442.7,741.3 L1443.6,739.4 L1444.4,737.4 L1445.3,735.5 L1446.3,733.6 L1447.3,732.0 L1448.3,730.4 L1449.3,728.8 L1450.3,727.0 L1451.0,725.6 L1451.3,724.9 L1452.1,722.7 L1452.8,720.6 L1453.4,718.6 L1454.1,716.7 L1454.8,714.9 L1455.2,714.2 L1455.8,713.3 L1456.8,711.8 L1457.8,710.5 L1458.8,709.6 L1459.5,709.2 L1459.8,709.1 L1460.8,708.8 L1461.8,708.5 L1462.8,708.3 L1463.8,708.2 L1464.8,708.0 L1465.8,707.9 L1466.6,707.7 L1466.8,707.7 L1467.8,707.5 L1468.8,707.3 L1469.8,707.1 L1470.8,706.9 L1471.8,706.7 L1472.8,706.5 L1473.8,706.3 L1474.8,706.0 L1475.8,705.7 L1476.8,705.4 L1477.8,705.1 L1478.8,704.9 L1479.5,704.9 L1479.8,705.0 L1480.8,706.0 L1481.8,707.8 L1482.8,709.6 L1483.0,709.9 L1483.8,711.2 L1484.8,713.0 L1485.8,714.4 L1486.6,714.9 L1486.8,714.9 L1487.8,714.6 L1488.8,714.1 L1489.8,713.5 L1490.8,712.8 L1490.9,712.7 L1491.8,712.0 L1492.8,711.0 L1493.8,710.0 L1494.8,709.3 L1495.2,709.2 L1495.8,709.1 L1496.8,709.0 L1497.8,708.9 L1498.8,708.8 L1499.8,708.8 L1500.8,708.7 L1501.8,708.6 L1502.3,708.5 L1502.8,708.4 L1503.8,708.1 L1504.8,707.8 L1505.8,707.4 L1506.8,707.0 L1507.8,706.6 L1508.8,706.4 L1509.4,706.3 L1509.8,706.3 L1510.8,706.2 L1511.8,706.1 L1512.8,706.1 L1513.8,706.0 L1514.8,706.0 L1515.8,705.9 L1516.8,705.9 L1517.8,705.9 L1518.0,705.9 L1518.8,706.0 L1519.8,706.3 L1520.8,706.7 L1521.8,707.2 L1522.8,707.6 L1523.8,708.0 L1524.8,708.2 L1525.1,708.2 L1525.8,708.2 L1526.8,708.2 L1527.8,708.1 L1528.8,708.1 L1529.8,708.0 L1530.8,707.9 L1531.8,707.8 L1532.8,707.8 L1533.6,707.7 L1533.8,707.7 L1534.8,707.6 L1535.8,707.4 L1536.8,707.3 L1537.8,707.2 L1538.8,707.1 L1539.8,707.0 L1540.0,707.0 L1540.8,707.1 L1541.8,707.5 L1542.8,708.1 L1543.8,708.8 L1544.8,709.5 L1545.7,709.9 L1545.8,709.9 L1546.8,710.2 L1547.8,710.4 L1548.8,710.6 L1549.8,710.8 L1550.8,711.1 L1551.8,711.4 L1552.1,711.6 L1552.8,712.4 L1553.8,714.8 L1554.5,716.9 L1555.2,718.7 L1555.7,719.9 L1556.0,720.4 L1557.0,722.1 L1558.0,723.7 L1559.0,725.1 L1560.0,726.3 L1561.0,727.4 L1562.0,728.5 L1563.0,729.5 L1564.0,730.4 L1565.0,730.9 L1565.7,731.0 L1566.0,731.0 L1567.0,730.9 L1568.0,730.8 L1569.0,730.6 L1570.0,730.4 L1571.0,730.2 L1572.0,730.1 L1572.8,730.1 L1573.0,730.1 L1574.0,730.2 L1575.0,730.4 L1576.0,730.7 L1577.0,731.0 L1578.0,731.4 L1579.0,731.8 L1580.0,732.2 L1581.0,732.6 L1581.3,732.7 L1582.0,733.0 L1583.0,733.4 L1584.0,733.9 L1585.0,734.4 L1586.0,734.9 L1587.0,735.3 L1588.0,735.5 L1588.5,735.5 L1589.0,735.4 L1590.0,735.0 L1591.0,734.3 L1592.0,733.5 L1593.0,732.7 L1594.0,732.1 L1594.2,732.0 L1595.0,731.7 L1596.0,731.5 L1597.0,731.3 L1598.0,731.1 L1599.0,730.8 L1599.9,730.5 L1600.0,730.5 L1601.0,729.8 L1602.0,728.9 L1603.0,727.9 L1604.0,727.2 L1604.8,727.0 L1605.0,727.0 L1606.0,727.1 L1607.0,727.3 L1608.0,727.5 L1609.0,727.8 L1610.0,728.0 L1611.0,728.1 L1611.3,728.1 L1612.0,728.0 L1613.0,727.5 L1614.0,726.8 L1615.0,726.2 L1616.0,725.8 L1616.2,725.8 L1617.0,725.9 L1618.0,726.5 L1619.0,727.1 L1620.0,727.8 L1621.0,728.1 L1621.2,728.1 L1622.0,728.0 L1623.0,727.8 L1624.0,727.4 L1625.0,727.1 L1626.0,726.8 L1626.9,726.7 L1627.0,726.7 L1628.0,727.1 L1629.0,728.1 L1630.0,729.3 L1631.0,730.4 L1632.0,731.1 L1632.6,731.3 L1633.0,731.3 L1634.0,731.1 L1635.0,730.6 L1636.0,730.1 L1637.0,729.6 L1638.0,729.2 L1638.3,729.1 L1639.0,728.9 L1640.0,728.7 L1641.0,728.5 L1642.0,728.3 L1643.0,728.1 L1644.0,727.7 L1645.0,726.9 L1646.0,725.5 L1647.0,723.9 L1648.0,722.4 L1649.0,721.3 L1650.0,720.7 L1651.0,720.2 L1652.0,719.9 L1653.0,719.5 L1654.0,718.9 L1654.7,718.4 L1655.0,718.1 L1656.0,716.3 L1656.9,714.2 L1657.7,712.2 L1658.5,710.5 L1659.0,709.9 L1659.5,709.4 L1660.5,708.4 L1661.5,707.7 L1662.5,707.2 L1663.3,707.0 L1663.5,707.0 L1664.5,706.9 L1665.5,706.8 L1666.5,706.8 L1667.5,706.7 L1668.5,706.7 L1669.5,706.7 L1669.7,706.7 L1670.5,707.2 L1671.5,708.8 L1672.5,710.7 L1673.5,712.5 L1674.5,713.4 L1674.7,713.4 L1675.5,713.4 L1676.5,713.3 L1677.5,713.2 L1678.5,713.1 L1679.5,712.9 L1680.5,712.8 L1681.5,712.7 L1682.5,712.7 L1683.5,713.2 L1684.5,714.3 L1685.5,715.7 L1686.5,717.0 L1687.5,717.7 L1688.5,718.0 L1689.5,718.2 L1690.5,718.4 L1691.5,718.6 L1692.5,718.8 L1693.2,719.1 L1693.5,719.4 L1694.5,721.0 L1695.5,723.2 L1696.3,725.1 L1697.2,726.7 L1697.5,727.0 L1698.2,727.5 L1699.2,728.1 L1700.2,728.4 L1700.3,728.4 L1701.2,728.0 L1702.2,726.9 L1703.2,725.5 L1704.2,723.9 L1704.6,723.4 L1705.2,722.5 L1706.2,721.1 L1707.2,719.4 L1708.2,717.6 L1708.9,716.3 L1709.2,715.6 L1710.0,713.3 L1710.7,711.2 L1711.3,709.3 L1712.0,707.6 L1712.4,707.0 L1713.0,706.2 L1714.0,705.1 L1715.0,704.5 L1715.3,704.5 L1716.0,704.7 L1717.0,705.7 L1718.0,707.1 L1718.9,708.5 L1719.0,708.7 L1720.0,711.2 L1720.7,713.4 L1721.3,715.4 L1721.8,717.5 L1722.3,719.5 L1722.4,719.9 L1722.8,721.6 L1723.3,723.7 L1723.7,725.7 L1724.1,727.8 L1724.5,729.8 L1724.8,731.8 L1725.2,733.7 L1725.3,734.1 L1725.6,735.7 L1726.0,737.7 L1726.4,739.7 L1726.8,741.7 L1727.2,743.7 L1727.6,745.7 L1728.0,747.7 L1728.5,749.6 L1728.8,751.2 L1728.9,751.6 L1729.3,753.6 L1729.8,755.5 L1730.3,757.5 L1730.8,759.5 L1731.3,761.5 L1731.8,763.5 L1732.4,765.5 L1732.9,767.5 L1733.1,768.3 L1733.4,769.4 L1733.9,771.4 L1734.5,773.4 L1735.0,775.4 L1735.6,777.4 L1736.2,779.4 L1736.7,781.4 L1737.3,783.5 L1737.4,784.0 L1737.8,785.6 L1738.2,787.7 L1738.7,789.7 L1739.1,791.6 L1739.6,793.5 L1740.1,795.2 L1740.2,795.4 L1740.9,796.9 L1741.9,798.7 L1742.9,799.7 L1743.1,799.7 L1743.9,799.5 L1744.9,798.9 L1745.9,798.0 L1746.6,797.5 L1746.9,797.3 L1747.9,796.7 L1748.9,796.0 L1749.9,795.3 L1750.9,794.7 L1751.9,794.0 L1752.9,793.3 L1753.9,792.5 L1754.9,792.0 L1755.9,791.8 L1756.9,792.0 L1757.9,792.4 L1758.9,793.0 L1759.9,793.5 L1760.9,793.9 L1761.6,794.0 L1761.9,793.9 L1762.9,792.9 L1763.9,791.1 L1764.8,789.0 L1765.2,788.3 L1765.8,787.0 L1766.6,784.9 L1767.4,782.8 L1768.1,780.8 L1768.8,778.8 L1769.5,776.9 L1770.3,775.0 L1771.2,773.0 L1772.0,771.0 L1772.9,768.9 L1773.7,766.9 L1773.7,766.8 L1774.5,764.7 L1775.1,762.6 L1775.7,760.6 L1776.3,758.6 L1776.9,756.7 L1777.3,755.5 L1777.6,754.8 L1778.2,752.7 L1778.9,750.8 L1779.6,748.9 L1780.4,747.1 L1780.9,746.2 L1781.4,745.5 L1782.4,744.4 L1783.4,743.5 L1784.4,742.6 L1785.1,742.0 L1785.4,741.7 L1786.4,740.5 L1787.4,739.4 L1788.4,738.5 L1789.4,738.1 L1790.4,738.1 L1791.4,738.3 L1792.4,738.4 L1793.4,738.6 L1794.4,738.7 L1795.1,738.7 L1795.4,738.7 L1796.4,738.6 L1797.4,738.3 L1798.4,738.1 L1799.4,737.9 L1800.4,737.7 L1800.8,737.7 L1801.4,737.8 L1802.4,738.0 L1803.4,738.5 L1804.4,738.9 L1805.4,739.1 L1805.7,739.1 L1806.4,739.1 L1807.4,739.1 L1808.4,739.1 L1809.4,739.1 L1810.4,739.1 L1811.4,739.1 L1812.4,739.5 L1813.4,740.4 L1814.4,741.6 L1815.4,742.8 L1816.4,743.7 L1817.1,744.1 L1817.4,744.2 L1818.4,744.4 L1819.4,744.6 L1820.4,744.7 L1821.4,744.8 L1822.4,745.1 L1822.8,745.2 L1823.4,745.6 L1824.4,746.7 L1825.4,748.2 L1826.4,749.7 L1827.4,750.9 L1827.8,751.2 L1828.4,751.6 L1829.4,752.0 L1830.4,752.4 L1831.4,752.8 L1832.4,753.2 L1832.8,753.4 L1833.4,753.8 L1834.4,754.6 L1835.4,755.6 L1836.4,756.4 L1837.4,756.9 L1837.8,756.9 L1838.4,756.8 L1839.4,756.5 L1840.4,756.0 L1841.4,755.5 L1842.4,755.0 L1842.8,754.8 L1843.4,754.6 L1844.4,754.1 L1845.4,753.7 L1846.4,753.5 L1847.0,753.4 L1847.4,753.4 L1848.4,753.8 L1849.4,754.4 L1850.4,755.3 L1851.4,756.3 L1852.0,756.9 L1852.4,757.4 L1853.4,759.0 L1854.4,761.0 L1855.3,763.0 L1856.3,764.7 L1857.0,765.5 L1857.3,765.8 L1858.3,766.6 L1859.3,767.3 L1860.3,767.9 L1861.3,768.3 L1862.3,768.6 L1863.3,768.8 L1864.3,769.0 L1865.3,769.2 L1866.3,769.5 L1867.0,769.7 L1867.3,769.9 L1868.3,770.7 L1869.3,771.8 L1870.3,773.0 L1871.3,774.0 L1872.3,775.1 L1873.3,776.3 L1874.3,777.3 L1875.3,778.1 L1876.2,778.3 L1876.3,778.3 L1877.3,778.0 L1878.3,777.4 L1879.3,776.5 L1880.3,775.5 L1880.5,775.4 L1881.3,774.4 L1882.3,772.9 L1883.3,771.1 L1884.3,769.2 L1885.3,767.2 L1885.5,766.9 L1886.3,765.1 L1887.2,763.0 L1888.0,761.0 L1888.9,759.0 L1889.7,757.1 L1889.8,756.9 L1890.6,755.2 L1891.6,753.2 L1892.6,751.3 L1893.6,749.5 L1894.6,747.9 L1894.8,747.6 L1895.6,746.3 L1896.6,744.8 L1897.6,743.3 L1898.6,742.1 L1899.6,741.3 L1899.8,741.2 L1900.6,740.8 L1901.6,740.5 L1902.6,740.2 L1903.6,739.9 L1904.6,739.7 L1905.6,739.4 L1906.6,739.2 L1906.9,739.1 L1907.6,738.9 L1908.6,738.6 L1909.6,738.4 L1910.6,738.1 L1911.6,737.8 L1912.6,737.5 L1913.6,737.1 L1914.0,737.0 L1914.6,736.7 L1915.6,736.0 L1916.6,735.3 L1917.6,734.4 L1918.6,733.7 L1919.6,733.1 L1920.6,732.7 L1921.1,732.7 L1921.6,732.7 L1922.6,732.7 L1923.6,732.8 L1924.6,732.8 L1925.6,732.9 L1926.6,733.0 L1927.6,733.0 L1928.3,733.0 L1928.6,733.0 L1929.6,733.0 L1930.6,733.0 L1931.6,733.0 L1932.6,732.9 L1933.6,732.9 L1934.6,732.8 L1935.6,732.8 L1936.6,732.7 L1936.8,732.7 L1937.6,732.5 L1938.6,732.1 L1939.6,731.5 L1940.6,730.7 L1941.6,729.8 L1942.6,728.9 L1943.6,727.9 L1943.9,727.7 L1944.6,727.0 L1945.6,725.7 L1946.6,724.3 L1947.6,722.9 L1948.6,721.4 L1949.6,720.1 L1950.6,718.9 L1951.1,718.4 L1951.6,717.9 L1952.6,717.1 L1953.6,716.4 L1954.6,715.7 L1955.6,715.0 L1956.6,714.3 L1956.8,714.2 L1957.6,713.6 L1958.6,712.8 L1959.6,712.1 L1960.6,711.4 L1961.6,710.9 L1962.5,710.6 L1962.6,710.6 L1963.6,710.4 L1964.6,710.3 L1965.6,710.2 L1966.6,710.2 L1967.6,710.1 L1968.6,710.0 L1969.6,709.9 L1970.6,709.7 L1971.6,709.5 L1972.6,709.3 L1973.6,709.1 L1974.6,708.8 L1975.6,708.5 L1976.6,708.2 L1976.7,708.2 L1977.6,707.9 L1978.6,707.4 L1979.6,706.9 L1980.6,706.5 L1981.6,706.0 L1982.6,705.7 L1983.6,705.6 L1983.8,705.6 L1984.6,705.6 L1985.6,705.8 L1986.6,706.0 L1987.6,706.2 L1988.6,706.5 L1989.6,706.7 L1990.6,706.9 L1991.0,707.0 L1991.6,707.1 L1992.6,707.2 L1993.6,707.4 L1994.6,707.5 L1995.6,707.6 L1996.6,707.7 L1997.6,707.7 L1998.1,707.7 L1998.6,707.6 L1999.6,707.0 L2000.6,706.0 L2001.6,704.9 L2002.6,704.0 L2003.6,703.5 L2003.8,703.5 L2004.6,703.5 L2005.6,703.7 L2006.6,703.9 L2007.6,704.2 L2008.6,704.5 L2009.6,704.8 L2010.6,705.2 L2010.9,705.3 L2011.6,705.6 L2012.6,706.3 L2013.6,707.2 L2014.6,708.0 L2015.6,708.8 L2016.6,709.5 L2017.6,709.9 L2018.1,709.9 L2018.6,709.9 L2019.6,709.9 L2020.6,709.9 L2021.6,709.9 L2022.6,709.9 L2023.6,709.9 L2024.6,709.9 L2025.2,709.9 L2025.6,709.9 L2026.6,709.9 L2027.6,709.8 L2028.6,709.8 L2029.6,709.7 L2030.6,709.6 L2031.6,709.6 L2032.3,709.6 L2032.6,709.6 L2033.6,709.8 L2034.6,710.1 L2035.6,710.5 L2036.6,710.9 L2037.6,711.3 L2038.6,711.5 L2039.4,711.6 L2039.6,711.6 L2040.6,711.2 L2041.6,710.4 L2042.6,709.5 L2043.6,708.6 L2044.6,707.9 L2045.1,707.7 L2045.6,707.5 L2046.6,707.2 L2047.6,707.0 L2048.6,706.7 L2049.6,706.5 L2050.6,706.4 L2051.6,706.3 L2052.3,706.3 L2052.6,706.3 L2053.6,706.6 L2054.6,707.2 L2055.6,707.8 L2056.6,708.5 L2057.6,709.0 L2058.6,709.2 L2058.7,709.2 L2059.6,709.0 L2060.6,708.3 L2061.6,707.4 L2062.6,706.5 L2063.6,705.6 L2063.7,705.6 L2064.6,705.0 L2065.6,704.3 L2066.6,703.7 L2067.6,703.1 L2068.6,702.5 L2069.4,702.0 L2069.6,701.9 L2070.2,701.5"/>
<path class="curve" stroke="#0000ff" d="M212.4,967.5 L213.4,967.8 L214.4,968.2 L215.4,968.5 L216.4,968.9 L217.4,969.2 L218.4,969.5 L219.4,969.9 L220.4,970.2 L221.4,970.6 L222.4,970.9 L223.4,971.2 L224.4,971.5 L225.4,971.9 L226.4,972.2 L227.4,972.5 L228.4,972.8 L229.4,973.1 L229.9,973.3 L230.4,973.5 L231.4,973.8 L232.4,974.1 L233.4,974.4 L234.4,974.7 L235.4,975.0 L236.4,975.3 L237.4,975.7 L238.4,976.0 L239.4,976.3 L240.4,976.6 L241.4,976.9 L242.4,977.2 L243.4,977.5 L244.4,977.8 L245.4,978.1 L246.4,978.3 L247.4,978.6 L248.4,978.9 L249.4,979.2 L249.9,979.3 L250.4,979.4 L251.4,979.7 L252.4,980.0 L253.4,980.2 L254.4,980.5 L255.4,980.8 L256.4,981.0 L257.4,981.3 L258.4,981.6 L259.4,981.8 L260.4,982.1 L261.4,982.3 L262.4,982.5 L263.4,982.8 L264.4,983.0 L265.4,983.2 L266.4,983.4 L267.4,983.6 L268.4,983.8 L269.4,984.0 L269.8,984.1 L270.4,984.2 L271.4,984.4 L272.4,984.5 L273.4,984.7 L274.4,984.9 L275.4,985.0 L276.4,985.2 L277.4,985.3 L278.4,985.5 L279.4,985.6 L280.4,985.7 L281.4,985.9 L282.4,986.0 L283.4,986.1 L284.4,986.2 L285.4,986.4 L286.4,986.5 L287.4,986.6 L288.4,986.7 L289.4,986.9 L289.8,986.9 L290.4,987.0 L291.4,987.1 L292.4,987.2 L293.4,987.3 L294.4,987.4 L295.4,987.5 L296.4,987.7 L297.4,987.8 L298.4,987.9 L299.4,988.0 L300.4,988.1 L301.4,988.2 L302.4,988.3 L303.4,988.4 L304.4,988.5 L305.4,988.6 L306.4,988.7 L307.4,988.7 L308.4,988.8 L309.4,988.9 L309.7,988.9 L310.4,988.9 L311.4,989.0 L312.4,989.1 L313.4,989.1 L314.4,989.2 L315.4,989.3 L316.4,989.3 L317.4,989.4 L318.4,989.5 L319.4,989.5 L320.4,989.6 L321.4,989.6 L322.4,989.7 L323.4,989.7 L324.4,989.7 L325.4,989.8 L326.4,989.8 L327.4,989.8 L328.4,989.9 L329.4,989.9 L329.7,989.9 L330.4,989.9 L331.4,989.9 L332.4,989.9 L333.4,990.0 L334.4,990.0 L335.4,990.0 L336.4,990.0 L337.4,990.0 L338.4,990.0 L339.4,990.0 L340.4,990.0 L341.4,990.1 L342.4,990.1 L343.4,990.1 L344.4,990.1 L345.4,990.1 L346.4,990.1 L347.4,990.1 L348.4,990.1 L349.4,990.1 L349.6,990.1 L350.4,990.1 L351.4,990.1 L352.4,990.1 L353.4,990.1 L354.4,990.1 L355.4,990.1 L356.4,990.1 L357.4,990.1 L358.4,990.1 L359.4,990.0 L360.4,990.0 L361.4,990.0 L362.4,990.0 L363.4,990.0 L364.4,990.0 L365.4,990.0 L366.4,989.9 L367.4,989.9 L368.4,989.9 L369.4,989.9 L369.6,989.9 L370.4,989.9 L371.4,989.9 L372.4,989.8 L373.4,989.8 L374.4,989.8 L375.4,989.8 L376.4,989.8 L377.4,989.7 L378.4,989.7 L379.4,989.7 L380.4,989.6 L381.4,989.6 L382.4,989.6 L383.4,989.5 L384.4,989.5 L385.4,989.5 L386.4,989.4 L387.4,989.4 L388.4,989.3 L389.4,989.3 L389.5,989.3 L390.4,989.3 L391.4,989.2 L392.4,989.2 L393.4,989.1 L394.4,989.1 L395.4,989.0 L396.4,989.0 L397.4,988.9 L398.4,988.9 L399.4,988.8 L400.4,988.8 L401.4,988.7 L402.4,988.7 L403.4,988.6 L404.4,988.6 L405.4,988.5 L406.4,988.5 L407.4,988.4 L408.4,988.4 L409.4,988.3 L409.5,988.3 L410.4,988.3 L411.4,988.2 L412.4,988.1 L413.4,988.1 L414.4,988.0 L415.4,988.0 L416.4,987.9 L417.4,987.9 L418.4,987.8 L419.4,987.7 L420.4,987.7 L421.4,987.6 L422.4,987.5 L423.4,987.5 L424.4,987.4 L425.4,987.4 L426.4,987.3 L427.4,987.2 L428.4,987.2 L429.4,987.1 L429.5,987.1 L430.4,987.0 L431.4,987.0 L432.4,986.9 L433.4,986.8 L434.4,986.8 L435.4,986.7 L436.4,986.7 L437.4,986.6 L438.4,986.5 L439.4,986.5 L440.4,986.4 L441.4,986.3 L442.4,986.2 L443.4,986.2 L444.4,986.1 L445.4,986.0 L446.4,985.9 L447.4,985.9 L448.4,985.8 L449.4,985.7 L450.4,985.6 L451.4,985.5 L452.4,985.4 L453.4,985.3 L454.4,985.2 L455.4,985.1 L456.4,985.0 L457.4,984.9 L458.4,984.8 L459.4,984.7 L460.4,984.6 L461.4,984.4 L462.4,984.3 L463.4,984.2 L464.4,984.1 L465.4,984.0 L466.4,983.9 L467.4,983.8 L468.4,983.7 L469.4,983.6 L470.4,983.5 L471.4,983.4 L472.4,983.3 L473.4,983.2 L474.4,983.2 L475.4,983.1 L476.4,983.0 L477.4,982.9 L478.4,982.8 L479.4,982.7 L480.4,982.7 L481.4,982.6 L482.4,982.5 L483.4,982.4 L484.4,982.4 L485.4,982.3 L486.4,982.2 L487.4,982.1 L488.4,982.1 L489.3,982.0 L489.4,982.0 L490.4,981.9 L491.4,981.9 L492.4,981.8 L493.4,981.7 L494.4,981.7 L495.4,981.6 L496.4,981.5 L497.4,981.5 L498.4,981.4 L499.4,981.4 L500.4,981.3 L501.4,981.3 L502.4,981.2 L503.4,981.1 L504.4,981.1 L505.4,981.0 L506.4,981.0 L507.4,980.9 L508.4,980.9 L509.3,980.8 L509.4,980.8 L510.4,980.7 L511.4,980.7 L512.4,980.6 L513.4,980.6 L514.4,980.5 L515.4,980.5 L516.4,980.5 L517.4,980.4 L518.4,980.4 L519.4,980.3 L520.4,980.3 L521.4,980.2 L522.4,980.1 L523.4,980.1 L524.4,980.0 L525.2,979.9 L525.4,979.9 L526.4,979.8 L527.4,979.6 L528.4,979.4 L529.4,979.2 L530.4,978.9 L531.4,978.7 L532.4,978.5 L533.4,978.3 L534.4,978.1 L535.2,978.0 L535.4,978.0 L536.4,977.9 L537.4,977.8 L538.4,977.7 L539.4,977.6 L540.4,977.5 L541.4,977.4 L542.4,977.4 L543.4,977.3 L544.4,977.2 L545.4,977.2 L546.4,977.1 L547.4,977.0 L548.4,977.0 L549.4,976.9 L550.4,976.9 L551.4,976.8 L552.4,976.7 L553.4,976.7 L554.4,976.6 L555.4,976.6 L556.4,976.5 L557.4,976.5 L558.4,976.4 L559.1,976.4 L559.4,976.4 L560.4,976.3 L561.4,976.3 L562.4,976.2 L563.4,976.2 L564.4,976.1 L565.4,976.1 L566.4,976.1 L567.4,976.0 L568.4,976.0 L569.4,975.9 L570.4,975.9 L571.4,975.8 L572.4,975.8 L573.4,975.8 L574.4,975.7 L575.4,975.7 L576.4,975.6 L577.4,975.6 L578.4,975.5 L579.1,975.5 L579.4,975.5 L580.4,975.4 L581.4,975.4 L582.4,975.3 L583.4,975.3 L584.4,975.2 L585.4,975.2 L586.4,975.1 L587.4,975.1 L588.4,975.1 L589.4,975.0 L590.4,975.0 L591.4,974.9 L592.4,974.9 L593.4,974.8 L594.4,974.7 L595.4,974.7 L596.4,974.6 L597.4,974.6 L598.4,974.5 L599.0,974.5 L599.4,974.5 L600.4,974.4 L601.4,974.4 L602.4,974.3 L603.4,974.2 L604.4,974.2 L605.4,974.1 L606.4,974.1 L607.4,974.0 L608.4,973.9 L609.4,973.9 L610.4,973.8 L611.4,973.8 L612.4,973.7 L613.4,973.6 L614.4,973.6 L615.4,973.5 L616.4,973.4 L617.4,973.4 L618.4,973.3 L619.4,973.2 L620.4,973.2 L621.4,973.1 L622.4,973.0 L623.4,972.9 L624.4,972.9 L625.4,972.8 L626.4,972.7 L627.4,972.7 L628.4,972.6 L629.4,972.5 L630.4,972.5 L631.4,972.4 L632.4,972.3 L633.4,972.2 L634.4,972.2 L635.4,972.1 L636.4,972.0 L637.4,972.0 L638.4,971.9 L639.4,971.8 L640.4,971.8 L641.4,971.7 L642.4,971.6 L643.4,971.5 L644.4,971.5 L645.4,971.4 L646.4,971.3 L647.4,971.3 L648.4,971.2 L649.4,971.1 L650.4,971.1 L651.4,971.0 L652.4,970.9 L653.4,970.9 L654.4,970.8 L655.4,970.7 L656.4,970.7 L657.4,970.6 L658.4,970.5 L659.4,970.5 L660.4,970.4 L661.4,970.4 L662.4,970.3 L663.4,970.2 L664.4,970.2 L665.4,970.1 L666.4,970.1 L667.4,970.0 L668.4,970.0 L669.4,969.9 L670.4,969.8 L671.3,969.8 L671.4,969.8 L672.4,969.7 L673.4,969.7 L674.4,969.6 L675.4,969.6 L676.4,969.5 L677.4,969.5 L678.4,969.4 L679.4,969.4 L680.4,969.3 L681.4,969.3 L682.4,969.2 L683.4,969.2 L684.4,969.1 L685.4,969.1 L686.4,969.0 L687.4,969.0 L688.4,968.9 L689.4,968.9 L690.4,968.8 L691.4,968.8 L692.4,968.7 L693.4,968.7 L694.4,968.6 L695.4,968.6 L696.4,968.5 L697.4,968.5 L698.4,968.4 L699.4,968.4 L700.4,968.4 L701.4,968.3 L702.4,968.3 L703.4,968.2 L704.4,968.2 L705.4,968.1 L706.4,968.1 L707.4,968.0 L708.4,968.0 L709.4,967.9 L710.4,967.9 L711.4,967.9 L712.4,967.8 L713.4,967.8 L714.4,967.7 L715.4,967.7 L716.4,967.7 L717.4,967.6 L718.4,967.6 L719.4,967.5 L720.4,967.5 L721.4,967.4 L722.4,967.4 L723.4,967.4 L724.4,967.3 L725.4,967.3 L726.4,967.3 L727.4,967.2 L728.4,967.2 L729.4,967.1 L730.4,967.1 L731.4,967.1 L732.4,967.0 L733.4,967.0 L734.4,967.0 L735.4,966.9 L736.4,966.9 L737.4,966.9 L738.4,966.8 L739.4,966.8 L740.4,966.8 L741.4,966.7 L742.4,966.7 L742.5,966.7 L743.4,966.7 L744.4,966.6 L745.4,966.6 L746.4,966.6 L747.4,966.6 L748.4,966.5 L749.4,966.5 L750.4,966.5 L751.4,966.4 L752.4,966.4 L753.4,966.4 L754.4,966.4 L755.4,966.3 L756.4,966.3 L757.4,966.3 L758.4,966.3 L759.4,966.2 L760.4,966.2 L761.4,966.2 L762.4,966.2 L763.4,966.1 L764.4,966.1 L765.4,966.1 L766.4,966.1 L767.4,966.0 L768.4,966.0 L769.4,966.0 L770.4,966.0 L771.4,965.9 L772.4,965.9 L773.4,965.9 L774.4,965.9 L775.4,965.8 L776.4,965.8 L777.4,965.8 L778.4,965.8 L779.4,965.8 L780.4,965.7 L781.4,965.7 L782.4,965.7 L783.4,965.7 L784.4,965.6 L785.4,965.6 L786.4,965.6 L787.4,965.6 L788.4,965.6 L789.4,965.5 L790.4,965.5 L791.4,965.5 L792.4,965.5 L793.4,965.5 L794.4,965.4 L795.4,965.4 L796.4,965.4 L797.4,965.4 L798.4,965.3 L799.4,965.3 L800.4,965.3 L801.4,965.3 L802.4,965.3 L803.4,965.2 L804.4,965.2 L805.4,965.2 L806.4,965.2 L807.4,965.1 L808.4,965.1 L809.4,965.1 L810.4,965.1 L811.4,965.1 L812.4,965.0 L813.4,965.0 L813.8,965.0 L814.4,965.0 L815.4,965.0 L816.4,964.9 L817.4,964.9 L818.4,964.9 L819.4,964.9 L820.4,964.9 L821.4,964.8 L822.4,964.8 L823.4,964.8 L824.4,964.8 L825.4,964.8 L826.4,964.7 L827.4,964.7 L828.4,964.7 L829.4,964.7 L830.4,964.7 L831.4,964.6 L832.4,964.6 L833.4,964.6 L834.4,964.6 L835.4,964.6 L836.4,964.6 L837.4,964.5 L838.4,964.5 L839.4,964.5 L840.4,964.5 L841.4,964.5 L842.4,964.5 L843.4,964.4 L844.4,964.4 L845.4,964.4 L846.4,964.4 L847.4,964.4 L848.4,964.3 L849.4,964.3 L850.4,964.3 L851.4,964.3 L852.4,964.2 L853.4,964.2 L854.4,964.2 L855.4,964.2 L856.4,964.2 L857.4,964.1 L858.4,964.1 L859.4,964.1 L860.4,964.0 L861.4,964.0 L862.4,964.0 L863.4,964.0 L864.4,963.9 L865.4,963.9 L866.4,963.9 L867.4,963.8 L868.4,963.8 L869.4,963.7 L870.4,963.7 L871.4,963.7 L872.4,963.6 L873.2,963.6 L873.4,963.6 L874.4,963.5 L875.4,963.5 L876.4,963.4 L877.4,963.3 L878.4,963.2 L879.4,963.1 L880.4,962.9 L881.4,962.8 L882.4,962.7 L883.4,962.6 L884.4,962.4 L885.4,962.3 L886.4,962.2 L887.4,962.1 L888.4,962.1 L889.4,962.0 L890.4,961.9 L891.4,961.9 L892.2,961.9 L892.4,961.9 L893.4,962.0 L894.4,962.2 L895.4,962.5 L896.4,962.9 L897.4,963.3 L898.4,963.6 L899.4,963.9 L900.4,964.2 L901.4,964.3 L901.7,964.3 L902.4,964.3 L903.4,964.2 L904.4,964.1 L905.4,963.9 L906.4,963.7 L907.4,963.5 L908.4,963.2 L909.4,963.0 L910.4,962.8 L911.4,962.6 L912.4,962.5 L913.4,962.4 L913.5,962.4 L914.4,962.4 L915.4,962.3 L916.4,962.3 L917.4,962.2 L918.4,962.2 L919.4,962.1 L920.4,962.1 L921.4,962.0 L922.4,962.0 L923.4,962.0 L924.4,961.9 L925.4,961.9 L926.4,961.9 L927.4,961.9 L928.4,961.8 L929.4,961.8 L930.4,961.8 L931.4,961.8 L932.4,961.7 L933.4,961.7 L934.4,961.7 L935.4,961.7 L936.4,961.6 L937.4,961.6 L938.4,961.6 L939.4,961.6 L940.4,961.6 L941.4,961.6 L942.4,961.5 L943.4,961.5 L944.4,961.5 L945.4,961.5 L946.4,961.5 L947.4,961.4 L948.4,961.4 L949.4,961.4 L950.4,961.4 L951.4,961.3 L952.4,961.3 L953.4,961.3 L954.4,961.3 L955.4,961.2 L956.3,961.2 L956.4,961.2 L957.4,961.2 L958.4,961.1 L959.4,961.1 L960.4,961.1 L961.4,961.0 L962.4,961.0 L963.4,961.0 L964.4,960.9 L965.4,960.9 L966.4,960.9 L967.4,960.8 L968.4,960.8 L969.4,960.8 L970.4,960.7 L971.4,960.7 L972.4,960.6 L973.4,960.6 L974.4,960.6 L975.4,960.5 L976.4,960.5 L977.4,960.5 L978.4,960.4 L979.4,960.4 L980.4,960.3 L981.4,960.3 L982.4,960.3 L983.4,960.2 L984.4,960.2 L985.4,960.2 L986.4,960.1 L987.4,960.1 L988.4,960.0 L989.4,960.0 L990.4,960.0 L991.4,959.9 L992.4,959.9 L993.4,959.8 L994.4,959.8 L995.4,959.8 L996.4,959.7 L997.4,959.7 L998.4,959.6 L999.4,959.6 L1000.4,959.6 L1001.4,959.5 L1002.4,959.5 L1003.4,959.4 L1004.4,959.4 L1005.4,959.3 L1006.4,959.3 L1007.4,959.3 L1008.4,959.2 L1009.4,959.2 L1010.4,959.1 L1011.4,959.1 L1012.4,959.1 L1013.4,959.0 L1014.4,959.0 L1015.4,958.9 L1016.4,958.9 L1017.4,958.8 L1018.4,958.8 L1019.4,958.8 L1020.4,958.7 L1021.4,958.7 L1022.4,958.6 L1023.4,958.6 L1024.4,958.5 L1025.4,958.5 L1026.4,958.5 L1027.4,958.4 L1027.6,958.4 L1028.4,958.4 L1029.4,958.3 L1030.4,958.3 L1031.4,958.2 L1032.4,958.2 L1033.4,958.2 L1034.4,958.1 L1035.4,958.1 L1036.4,958.0 L1037.4,958.0 L1038.4,957.9 L1039.4,957.9 L1040.4,957.9 L1041.4,957.8 L1042.4,957.8 L1043.4,957.7 L1044.4,957.7 L1045.4,957.6 L1046.4,957.6 L1047.4,957.5 L1048.4,957.5 L1049.4,957.5 L1050.4,957.4 L1051.4,957.4 L1052.4,957.3 L1053.4,957.3 L1054.4,957.2 L1055.4,957.2 L1056.4,957.2 L1057.4,957.1 L1058.4,957.1 L1059.4,957.0 L1060.4,957.0 L1061.4,956.9 L1062.4,956.9 L1063.4,956.8 L1064.4,956.8 L1065.4,956.7 L1066.4,956.7 L1067.4,956.7 L1068.4,956.6 L1069.4,956.6 L1070.4,956.5 L1071.4,956.5 L1072.4,956.4 L1073.4,956.4 L1074.4,956.3 L1075.4,956.3 L1076.4,956.2 L1077.4,956.2 L1078.4,956.1 L1079.4,956.1 L1080.4,956.0 L1081.4,956.0 L1082.4,955.9 L1083.4,955.9 L1084.4,955.8 L1085.4,955.7 L1086.4,955.7 L1087.4,955.6 L1088.4,955.6 L1089.4,955.5 L1090.4,955.5 L1091.4,955.4 L1092.4,955.4 L1093.4,955.3 L1094.4,955.2 L1095.4,955.2 L1096.4,955.1 L1097.4,955.1 L1098.4,955.0 L1099.4,954.9 L1100.0,954.9 L1100.4,954.9 L1101.4,954.8 L1102.4,954.7 L1103.4,954.7 L1104.4,954.6 L1105.4,954.5 L1106.4,954.5 L1107.4,954.4 L1108.4,954.3 L1109.4,954.2 L1110.4,954.2 L1111.4,954.1 L1112.4,954.0 L1113.4,953.9 L1114.4,953.8 L1115.4,953.8 L1116.4,953.7 L1117.4,953.6 L1118.4,953.5 L1119.4,953.4 L1120.4,953.3 L1121.4,953.3 L1122.4,953.2 L1123.4,953.1 L1124.4,953.0 L1125.4,952.9 L1126.4,952.8 L1127.4,952.7 L1128.4,952.6 L1129.4,952.5 L1130.4,952.5 L1131.4,952.4 L1132.4,952.3 L1133.4,952.2 L1134.4,952.1 L1135.4,952.0 L1136.4,951.9 L1137.4,951.8 L1138.4,951.8 L1139.4,951.7 L1140.4,951.6 L1141.4,951.5 L1142.4,951.4 L1143.4,951.3 L1144.4,951.2 L1145.4,951.2 L1146.4,951.1 L1147.4,951.0 L1147.5,951.0 L1148.4,950.9 L1149.4,950.9 L1150.4,950.8 L1151.4,950.7 L1152.4,950.6 L1153.4,950.5 L1154.4,950.5 L1155.4,950.4 L1156.4,950.3 L1157.4,950.2 L1158.4,950.1 L1159.4,950.1 L1160.4,950.0 L1161.4,949.9 L1162.4,949.8 L1163.4,949.8 L1164.4,949.7 L1165.4,949.6 L1166.4,949.5 L1167.4,949.4 L1168.4,949.4 L1169.4,949.3 L1170.4,949.2 L1171.4,949.1 L1172.4,949.1 L1173.4,949.0 L1174.4,948.9 L1175.4,948.8 L1176.4,948.8 L1177.4,948.7 L1178.4,948.6 L1179.4,948.5 L1180.4,948.5 L1181.4,948.4 L1182.4,948.3 L1183.4,948.2 L1184.4,948.2 L1185.4,948.1 L1186.4,948.0 L1187.4,947.9 L1188.4,947.9 L1189.4,947.8 L1190.4,947.7 L1191.4,947.7 L1192.4,947.6 L1193.4,947.5 L1194.4,947.4 L1195.0,947.4 L1195.4,947.4 L1196.4,947.3 L1197.4,947.2 L1198.4,947.2 L1199.4,947.1 L1200.4,947.0 L1201.4,947.0 L1202.4,946.9 L1203.4,946.8 L1204.4,946.8 L1205.4,946.7 L1206.4,946.6 L1207.4,946.6 L1208.4,946.5 L1209.4,946.4 L1210.4,946.4 L1211.4,946.3 L1212.4,946.2 L1213.4,946.2 L1214.4,946.1 L1215.4,946.0 L1216.4,946.0 L1217.4,945.9 L1218.4,945.8 L1219.4,945.8 L1220.4,945.7 L1221.4,945.7 L1222.4,945.6 L1223.4,945.5 L1224.4,945.5 L1225.4,945.4 L1226.4,945.3 L1227.4,945.3 L1228.4,945.2 L1229.4,945.1 L1230.4,945.1 L1231.4,945.0 L1232.4,945.0 L1233.4,944.9 L1234.4,944.8 L1235.4,944.8 L1236.4,944.7 L1237.4,944.6 L1238.4,944.6 L1239.4,944.5 L1240.4,944.4 L1241.4,944.4 L1242.4,944.3 L1242.5,944.3 L1243.4,944.2 L1244.4,944.2 L1245.4,944.1 L1246.4,944.0 L1247.4,944.0 L1248.4,943.9 L1249.4,943.8 L1250.4,943.7 L1251.4,943.7 L1252.4,943.6 L1253.4,943.5 L1254.4,943.4 L1255.4,943.4 L1256.4,943.3 L1257.4,943.2 L1258.4,943.2 L1259.4,943.1 L1260.4,943.0 L1261.4,943.0 L1262.4,942.9 L1263.4,942.8 L1264.4,942.8 L1265.4,942.7 L1266.3,942.7 L1266.4,942.7 L1267.4,942.6 L1268.4,942.6 L1269.4,942.6 L1270.4,942.5 L1271.4,942.5 L1272.4,942.4 L1273.4,942.4 L1274.4,942.3 L1275.4,942.3 L1276.4,942.3 L1277.4,942.2 L1278.4,942.2 L1279.4,942.2 L1280.4,942.2 L1280.5,942.2 L1281.4,942.2 L1282.4,942.2 L1283.4,942.2 L1284.4,942.3 L1285.4,942.3 L1286.4,942.3 L1287.4,942.4 L1288.4,942.4 L1289.4,942.5 L1290.4,942.6 L1291.4,942.6 L1292.4,942.7 L1293.4,942.8 L1294.4,942.9 L1295.4,942.9 L1296.4,943.0 L1297.1,943.1 L1297.4,943.1 L1298.4,943.3 L1299.4,943.4 L1300.4,943.6 L1301.4,943.8 L1302.4,944.1 L1303.4,944.4 L1304.4,944.7 L1305.4,945.0 L1306.4,945.2 L1307.4,945.5 L1308.4,945.8 L1309.0,946.0 L1309.4,946.1 L1310.4,946.4 L1311.4,946.8 L1312.4,947.1 L1313.4,947.5 L1314.4,947.9 L1315.4,948.3 L1316.4,948.6 L1317.4,949.0 L1318.4,949.3 L1319.4,949.5 L1320.4,949.7 L1320.9,949.8 L1321.4,949.9 L1322.4,950.0 L1323.4,950.1 L1324.4,950.3 L1325.4,950.4 L1326.4,950.5 L1327.4,950.6 L1328.4,950.6 L1329.4,950.7 L1330.4,950.7 L1331.4,950.7 L1332.4,950.6 L1333.4,950.5 L1334.4,950.3 L1335.4,950.1 L1336.4,949.9 L1337.4,949.7 L1338.4,949.5 L1339.4,949.2 L1339.9,949.1 L1340.4,949.0 L1341.4,948.7 L1342.4,948.3 L1343.4,947.9 L1344.4,947.4 L1345.4,946.9 L1346.4,946.4 L1347.4,945.9 L1348.4,945.3 L1349.4,944.8 L1350.4,944.3 L1351.4,943.8 L1351.8,943.6 L1352.4,943.3 L1353.4,942.8 L1354.4,942.3 L1355.4,941.7 L1356.4,941.2 L1357.4,940.7 L1358.4,940.1 L1359.4,939.6 L1360.4,939.2 L1361.4,938.7 L1362.4,938.3 L1363.4,938.0 L1363.7,937.9 L1364.4,937.7 L1365.4,937.4 L1366.4,937.2 L1367.4,936.9 L1368.4,936.7 L1369.4,936.5 L1370.4,936.3 L1371.4,936.1 L1372.4,935.9 L1373.4,935.8 L1374.4,935.6 L1375.4,935.5 L1375.5,935.5 L1376.4,935.4 L1377.4,935.3 L1378.4,935.2 L1379.4,935.1 L1380.4,935.1 L1381.4,935.0 L1382.4,934.9 L1383.4,934.9 L1384.4,934.8 L1385.4,934.7 L1386.4,934.7 L1387.4,934.6 L1388.4,934.6 L1389.4,934.5 L1390.4,934.4 L1391.4,934.4 L1392.2,934.3 L1392.4,934.3 L1393.4,934.2 L1394.4,934.1 L1395.4,934.0 L1396.4,933.9 L1397.4,933.8 L1398.4,933.7 L1399.4,933.6 L1400.4,933.5 L1401.4,933.3 L1402.4,933.2 L1403.4,933.1 L1404.4,933.0 L1405.4,933.0 L1406.4,932.9 L1407.4,932.8 L1408.4,932.8 L1409.4,932.7 L1410.4,932.7 L1411.2,932.7 L1411.4,932.7 L1412.4,932.7 L1413.4,932.8 L1414.4,932.9 L1415.4,933.0 L1416.4,933.1 L1417.4,933.2 L1418.4,933.3 L1419.4,933.4 L1420.4,933.5 L1421.4,933.6 L1422.4,933.6 L1423.0,933.6 L1423.4,933.6 L1424.4,933.5 L1425.4,933.4 L1426.4,933.2 L1427.4,932.9 L1428.4,932.7 L1429.4,932.4 L1430.4,932.0 L1431.4,931.7 L1432.4,931.4 L1433.4,931.1 L1434.4,930.9 L1434.9,930.8 L1435.4,930.7 L1436.4,930.5 L1437.4,930.3 L1438.4,930.1 L1439.4,929.9 L1440.4,929.7 L1441.4,929.5 L1442.4,929.3 L1443.4,929.1 L1444.4,928.9 L1445.4,928.8 L1446.4,928.6 L1447.4,928.5 L1448.4,928.4 L1449.2,928.4 L1449.4,928.4 L1450.4,928.3 L1451.4,928.3 L1452.4,928.2 L1453.4,928.2 L1454.4,928.2 L1455.4,928.1 L1456.4,928.1 L1457.4,928.0 L1458.4,928.0 L1459.4,928.0 L1460.4,927.9 L1461.4,927.9 L1462.4,927.9 L1463.4,927.9 L1464.4,927.8 L1465.4,927.8 L1466.4,927.8 L1467.4,927.8 L1468.4,927.8 L1469.4,927.7 L1470.4,927.7 L1471.4,927.7 L1472.4,927.7 L1473.4,927.7 L1474.4,927.7 L1475.3,927.7 L1475.4,927.7 L1476.4,927.7 L1477.4,927.8 L1478.4,927.9 L1479.4,928.0 L1480.4,928.1 L1481.4,928.2 L1482.4,928.4 L1483.4,928.5 L1484.4,928.7 L1485.4,928.8 L1486.4,929.0 L1487.4,929.1 L1488.4,929.2 L1489.4,929.3 L1490.4,929.4 L1491.4,929.4 L1491.9,929.4 L1492.4,929.4 L1493.4,929.4 L1494.4,929.4 L1495.4,929.3 L1496.4,929.3 L1497.4,929.2 L1498.4,929.1 L1499.4,929.1 L1500.4,929.0 L1501.4,928.9 L1502.4,928.8 L1503.4,928.7 L1504.4,928.7 L1505.4,928.6 L1506.4,928.5 L1507.4,928.5 L1508.4,928.4 L1509.4,928.4 L1510.4,928.4 L1510.9,928.4 L1511.4,928.4 L1512.4,928.4 L1513.4,928.5 L1514.4,928.5 L1515.4,928.6 L1516.4,928.7 L1517.4,928.7 L1518.4,928.8 L1519.4,928.9 L1520.4,929.0 L1521.4,929.1 L1522.4,929.2 L1523.4,929.2 L1524.4,929.3 L1525.4,929.4 L1526.4,929.4 L1527.4,929.4 L1527.6,929.4 L1528.4,929.4 L1529.4,929.4 L1530.4,929.4 L1531.4,929.4 L1532.4,929.3 L1533.4,929.3 L1534.4,929.3 L1535.4,929.2 L1536.4,929.2 L1537.4,929.2 L1538.4,929.1 L1539.4,929.1 L1540.4,929.0 L1541.4,929.0 L1542.4,928.9 L1543.4,928.8 L1544.4,928.8 L1545.4,928.7 L1546.4,928.7 L1547.4,928.6 L1548.4,928.6 L1549.4,928.5 L1550.4,928.4 L1551.3,928.4 L1551.4,928.4 L1552.4,928.3 L1553.4,928.3 L1554.4,928.2 L1555.4,928.1 L1556.4,928.0 L1557.4,927.9 L1558.4,927.8 L1559.4,927.7 L1560.4,927.6 L1561.4,927.5 L1562.4,927.4 L1563.4,927.3 L1564.4,927.3 L1565.4,927.2 L1566.4,927.1 L1567.4,927.1 L1568.4,927.0 L1569.4,927.0 L1570.3,927.0 L1570.4,927.0 L1571.4,927.0 L1572.4,927.0 L1573.4,927.1 L1574.4,927.1 L1575.4,927.2 L1576.4,927.3 L1577.4,927.3 L1578.4,927.4 L1579.4,927.5 L1580.0,927.5 L1580.4,927.5 L1581.4,927.6 L1582.4,927.6 L1583.4,927.7 L1584.4,927.8 L1585.4,927.8 L1586.4,927.9 L1587.4,927.9 L1588.4,928.0 L1589.4,928.1 L1590.4,928.2 L1591.4,928.2 L1592.2,928.3 L1592.4,928.3 L1593.4,928.4 L1594.4,928.5 L1595.4,928.6 L1596.4,928.7 L1597.4,928.9 L1598.4,929.0 L1599.4,929.1 L1600.4,929.3 L1601.4,929.4 L1602.4,929.5 L1603.4,929.7 L1604.4,929.8 L1604.5,929.8 L1605.4,929.9 L1606.4,930.1 L1607.4,930.2 L1608.4,930.3 L1609.4,930.5 L1610.4,930.6 L1611.4,930.8 L1612.4,930.9 L1613.4,931.0 L1614.4,931.2 L1615.2,931.3 L1615.4,931.3 L1616.4,931.5 L1617.4,931.7 L1618.4,931.9 L1619.4,932.0 L1620.4,932.2 L1621.4,932.4 L1622.4,932.5 L1623.4,932.6 L1624.3,932.6 L1624.4,932.6 L1625.4,932.6 L1626.4,932.6 L1627.4,932.5 L1628.4,932.5 L1629.4,932.4 L1630.4,932.4 L1631.4,932.3 L1632.4,932.2 L1633.4,932.1 L1633.5,932.1 L1634.4,932.0 L1635.4,931.7 L1636.4,931.5 L1637.4,931.1 L1638.4,930.7 L1639.4,930.4 L1640.4,930.0 L1641.2,929.8 L1641.4,929.7 L1642.4,929.4 L1643.4,929.1 L1644.4,928.7 L1645.4,928.4 L1646.4,928.1 L1647.4,927.9 L1648.4,927.8 L1648.8,927.8 L1649.4,927.8 L1650.4,927.8 L1651.4,927.9 L1652.4,927.9 L1653.4,927.9 L1654.4,928.0 L1655.4,928.0 L1656.4,928.0 L1656.5,928.0 L1657.4,927.9 L1658.4,927.8 L1659.4,927.5 L1660.4,927.2 L1661.4,926.9 L1662.4,926.6 L1663.4,926.4 L1664.1,926.3 L1664.4,926.3 L1665.4,926.1 L1666.4,926.0 L1667.4,925.9 L1668.4,925.8 L1669.4,925.8 L1670.4,925.7 L1671.4,925.7 L1671.7,925.7 L1672.4,925.7 L1673.4,925.8 L1674.4,925.9 L1675.4,926.1 L1676.4,926.2 L1677.4,926.4 L1678.4,926.5 L1679.4,926.5 L1680.4,926.5 L1681.4,926.5 L1682.4,926.5 L1683.4,926.5 L1684.4,926.5 L1685.4,926.5 L1686.4,926.5 L1687.0,926.5 L1687.4,926.5 L1688.4,926.7 L1689.4,927.1 L1690.4,927.6 L1691.4,928.2 L1691.6,928.3 L1692.4,929.0 L1693.4,930.3 L1694.4,931.9 L1695.4,933.6 L1696.4,935.6 L1697.3,937.7 L1698.1,939.8 L1698.9,941.8 L1699.3,942.8 L1699.7,943.8 L1700.4,945.8 L1701.1,947.9 L1701.8,949.9 L1702.5,951.9 L1703.1,953.5 L1703.2,953.9 L1703.9,955.9 L1704.6,957.9 L1705.4,959.9 L1706.1,961.9 L1706.8,963.9 L1706.9,964.2 L1707.5,965.9 L1708.2,967.9 L1708.9,969.9 L1709.6,971.9 L1710.3,973.8 L1710.7,974.9 L1711.0,975.8 L1711.8,977.7 L1712.6,979.7 L1713.5,981.6 L1714.3,983.6 L1714.6,984.1 L1715.3,985.6 L1716.2,987.6 L1717.1,989.4 L1718.1,990.8 L1718.4,991.0 L1719.1,991.5 L1720.1,992.0 L1721.1,992.4 L1722.1,992.5 L1722.2,992.5 L1723.1,992.5 L1724.1,992.3 L1725.1,992.1 L1726.1,991.9 L1726.8,991.7 L1727.1,991.6 L1728.1,991.1 L1729.1,990.5 L1730.1,989.7 L1731.1,988.9 L1731.4,988.7 L1732.1,988.1 L1733.1,987.0 L1734.1,986.0 L1735.1,984.9 L1736.0,984.1 L1736.1,984.0 L1737.1,983.2 L1738.1,982.4 L1739.1,981.7 L1740.1,980.9 L1741.1,980.2 L1742.1,979.5 L1743.1,978.7 L1744.1,977.9 L1745.1,977.1 L1746.1,976.3 L1747.1,975.6 L1748.1,974.9 L1748.2,974.9 L1749.1,974.4 L1750.1,973.8 L1751.1,973.3 L1752.1,972.8 L1753.1,972.5 L1754.1,972.2 L1754.3,972.2 L1755.1,972.1 L1756.1,971.9 L1757.1,971.8 L1758.1,971.7 L1759.1,971.6 L1760.1,971.6 L1760.4,971.6 L1761.1,971.6 L1762.1,971.6 L1763.1,971.7 L1764.1,971.7 L1765.1,971.8 L1766.1,971.9 L1766.5,971.9 L1767.1,972.0 L1768.1,972.5 L1769.1,973.2 L1770.1,974.0 L1771.1,974.9 L1772.1,976.1 L1773.1,977.7 L1774.1,979.5 L1775.1,981.5 L1775.7,982.6 L1776.1,983.5 L1777.1,985.6 L1777.9,987.7 L1778.7,989.8 L1778.8,990.2 L1779.4,991.9 L1780.0,994.0 L1780.6,996.1 L1781.1,998.1 L1781.6,1000.1 L1781.8,1000.9 L1782.1,1002.2 L1782.6,1004.2 L1783.1,1006.2 L1783.5,1008.3 L1784.0,1010.3 L1784.4,1012.3 L1784.8,1014.4 L1784.9,1014.7 L1785.2,1016.4 L1785.6,1018.4 L1786.0,1020.4 L1786.4,1022.5 L1786.8,1024.5 L1787.1,1026.5 L1787.5,1028.5 L1787.8,1030.5 L1788.0,1031.5 L1788.2,1032.5 L1788.5,1034.6 L1788.9,1036.6 L1789.2,1038.6 L1789.5,1040.6 L1789.8,1042.6 L1790.2,1044.6 L1790.5,1046.6 L1790.8,1048.6 L1791.0,1049.8 L1791.1,1050.6 L1791.5,1052.6 L1791.8,1054.6 L1792.1,1056.5 L1792.5,1058.5 L1792.8,1060.5 L1793.2,1062.5 L1793.5,1064.6 L1793.8,1066.6 L1794.1,1068.2 L1794.2,1068.6 L1794.5,1070.6 L1794.8,1072.6 L1795.1,1074.6 L1795.5,1076.6 L1795.8,1078.6 L1796.1,1080.6 L1796.4,1082.6 L1796.8,1084.6 L1797.1,1086.5 L1797.5,1088.5 L1797.8,1090.5 L1798.2,1092.5 L1798.5,1094.5 L1798.9,1096.5 L1799.2,1098.5 L1799.6,1100.4 L1800.0,1102.4 L1800.2,1103.4 L1800.4,1104.4 L1800.8,1106.4 L1801.2,1108.3 L1801.6,1110.3 L1802.1,1112.3 L1802.5,1114.2 L1803.0,1116.2 L1803.2,1117.1 L1803.5,1118.1 L1804.0,1120.1 L1804.5,1122.0 L1805.1,1124.0 L1805.7,1125.9 L1806.3,1127.8 L1806.3,1127.9 L1807.0,1129.8 L1807.7,1131.8 L1808.5,1133.6 L1809.4,1135.4 L1809.4,1135.5 L1810.4,1137.2 L1811.4,1138.7 L1812.4,1140.1 L1813.4,1141.2 L1813.9,1141.6 L1814.4,1141.9 L1815.4,1142.7 L1816.4,1143.3 L1817.4,1143.8 L1818.4,1144.2 L1819.3,1144.3 L1819.4,1144.3 L1820.4,1144.3 L1821.4,1144.2 L1822.4,1144.1 L1823.4,1144.0 L1824.4,1143.9 L1824.6,1143.9 L1825.4,1143.7 L1826.4,1143.4 L1827.4,1142.9 L1828.4,1142.3 L1829.4,1141.7 L1830.4,1141.0 L1830.8,1140.8 L1831.4,1140.5 L1832.4,1139.8 L1833.4,1139.2 L1834.4,1138.5 L1835.4,1137.8 L1836.4,1137.3 L1836.9,1137.0 L1837.4,1136.8 L1838.4,1136.4 L1839.4,1136.0 L1840.4,1135.7 L1841.4,1135.4 L1842.4,1135.0 L1843.0,1134.7 L1843.4,1134.5 L1844.4,1133.9 L1845.4,1133.2 L1846.4,1132.5 L1847.4,1131.8 L1848.4,1131.2 L1849.1,1130.9 L1849.4,1130.8 L1850.4,1130.5 L1851.4,1130.2 L1852.4,1130.0 L1853.4,1129.8 L1854.4,1129.6 L1855.2,1129.4 L1855.4,1129.4 L1856.4,1129.2 L1857.4,1129.0 L1858.4,1128.9 L1859.4,1128.7 L1860.4,1128.6 L1861.4,1128.4 L1862.4,1128.3 L1862.9,1128.2 L1863.4,1128.1 L1864.4,1128.0 L1865.4,1127.9 L1866.4,1127.7 L1867.1,1127.6 L1867.4,1127.6 L1868.4,1127.4 L1869.4,1127.1 L1870.4,1126.9 L1871.4,1126.6 L1871.8,1126.5 L1872.4,1126.3 L1873.4,1125.8 L1874.4,1125.2 L1875.4,1124.7 L1876.4,1124.5 L1876.5,1124.5 L1877.4,1124.7 L1878.4,1125.2 L1879.4,1126.0 L1880.0,1126.5 L1880.4,1126.9 L1881.4,1128.4 L1882.4,1130.1 L1883.4,1131.2 L1883.5,1131.2 L1884.4,1131.3 L1885.4,1131.5 L1886.4,1131.5 L1887.4,1131.6 L1888.4,1131.7 L1889.4,1131.8 L1890.4,1132.0 L1891.4,1132.4 L1892.4,1132.9 L1893.4,1133.5 L1894.4,1134.1 L1895.3,1134.7 L1895.4,1134.7 L1896.4,1135.4 L1897.4,1136.2 L1898.4,1137.1 L1899.4,1138.1 L1900.0,1138.8 L1900.4,1139.3 L1901.4,1140.9 L1902.4,1142.7 L1903.4,1144.5 L1903.5,1144.7 L1904.4,1146.3 L1905.4,1148.2 L1906.4,1149.6 L1907.1,1150.0 L1907.4,1150.0 L1908.4,1149.9 L1909.4,1149.8 L1910.4,1149.6 L1911.4,1149.5 L1912.4,1149.4 L1912.9,1149.4 L1913.4,1149.5 L1914.4,1150.2 L1915.4,1151.2 L1916.4,1152.3 L1916.5,1152.4 L1917.4,1153.4 L1918.4,1154.7 L1919.4,1155.7 L1920.0,1155.9 L1920.4,1155.9 L1921.4,1155.8 L1922.4,1155.8 L1923.4,1155.7 L1924.4,1155.6 L1925.4,1155.5 L1925.9,1155.5 L1926.4,1155.6 L1927.4,1156.6 L1928.4,1158.2 L1929.4,1159.9 L1929.4,1160.0 L1930.4,1162.4 L1931.0,1164.5 L1931.7,1166.3 L1932.4,1167.9 L1932.9,1168.2 L1933.4,1168.1 L1934.4,1167.8 L1935.4,1167.3 L1936.4,1166.8 L1937.4,1166.5 L1937.6,1166.5 L1938.4,1167.3 L1939.4,1169.8 L1940.0,1171.8 L1940.1,1172.0 L1940.5,1175.0 L1940.8,1177.1 L1941.0,1179.2 L1941.3,1181.2 L1941.5,1183.2 L1941.7,1185.1 L1941.8,1185.9 L1941.9,1187.1 L1942.2,1189.1 L1942.4,1191.2 L1942.6,1193.1 L1942.9,1195.0 L1943.1,1196.9 L1943.4,1198.5 L1943.5,1198.8 L1943.9,1200.1 L1944.6,1201.8 L1945.3,1202.4 L1945.6,1202.3 L1946.6,1201.4 L1947.6,1199.8 L1948.2,1198.8 L1948.6,1198.0 L1949.5,1195.7 L1950.3,1193.7 L1951.1,1192.0 L1951.2,1191.8 L1952.1,1190.6 L1953.1,1189.5 L1953.5,1189.4 L1954.1,1189.6 L1955.1,1190.6 L1956.1,1192.1 L1956.5,1192.9 L1957.1,1194.2 L1957.8,1196.5 L1958.3,1198.6 L1958.9,1200.6 L1959.4,1202.4 L1960.0,1204.4 L1960.7,1206.4 L1961.3,1208.4 L1961.9,1210.4 L1962.4,1211.8 L1962.6,1212.4 L1963.2,1214.5 L1963.8,1216.5 L1964.4,1218.3 L1965.2,1219.8 L1965.3,1220.0 L1966.2,1220.8 L1967.1,1221.2 L1967.2,1221.2 L1968.2,1218.5 L1968.6,1216.3 L1969.0,1214.4 L1969.4,1212.9 L1969.5,1212.5 L1970.0,1210.2 L1970.4,1208.3 L1970.8,1206.6 L1971.2,1205.9 L1971.4,1206.0 L1972.4,1207.5 L1973.3,1209.9 L1973.5,1210.6 L1973.9,1212.6 L1974.2,1214.9 L1974.5,1217.0 L1974.7,1219.1 L1974.9,1221.1 L1975.1,1223.1 L1975.3,1224.7 L1975.3,1225.1 L1975.6,1227.2 L1975.7,1229.3 L1975.9,1231.3 L1976.1,1233.3 L1976.3,1235.3 L1976.4,1237.3 L1976.6,1239.3 L1976.8,1241.3 L1976.9,1243.2 L1977.1,1244.7 L1977.1,1245.1 L1977.4,1247.2 L1977.6,1249.2 L1977.7,1251.1 L1978.0,1253.1 L1978.2,1255.0 L1978.4,1256.8 L1978.7,1258.5 L1978.8,1258.8 L1979.2,1260.0 L1979.8,1261.0 L1979.9,1261.0 L1980.9,1259.3 L1981.6,1256.8 L1982.0,1254.7 L1982.4,1252.9 L1982.5,1252.6 L1982.8,1249.8 L1983.0,1247.6 L1983.1,1245.5 L1983.3,1243.5 L1983.4,1241.5 L1983.6,1239.5 L1983.7,1237.5 L1983.9,1235.6 L1984.0,1233.7 L1984.1,1232.9 L1984.2,1231.8 L1984.4,1229.8 L1984.6,1227.8 L1984.8,1225.8 L1985.0,1223.8 L1985.2,1221.9 L1985.4,1219.9 L1985.6,1217.9 L1985.8,1215.9 L1985.9,1215.3 L1986.1,1214.0 L1986.3,1212.0 L1986.5,1210.0 L1986.8,1208.0 L1987.0,1206.0 L1987.3,1204.1 L1987.5,1202.1 L1987.8,1200.2 L1988.1,1198.3 L1988.2,1197.6 L1988.4,1196.4 L1988.8,1194.6 L1989.2,1192.7 L1989.7,1190.7 L1990.2,1188.7 L1990.7,1186.5 L1991.1,1184.3 L1991.2,1183.5 L1991.4,1182.2 L1991.7,1180.0 L1991.9,1177.9 L1992.1,1175.9 L1992.4,1173.8 L1992.6,1171.8 L1992.8,1169.7 L1992.9,1168.2 L1992.9,1167.7 L1993.1,1165.5 L1993.3,1163.4 L1993.4,1161.4 L1993.5,1159.4 L1993.7,1157.4 L1993.8,1155.6 L1994.0,1153.8 L1994.1,1152.9 L1994.2,1152.3 L1994.5,1150.4 L1994.9,1148.7 L1995.5,1147.6 L1996.5,1150.2 L1996.9,1152.4 L1997.4,1154.3 L1997.6,1155.3 L1997.8,1156.1 L1998.3,1158.1 L1998.8,1160.1 L1999.3,1162.1 L1999.8,1164.1 L2000.0,1164.7 L2000.4,1166.0 L2001.0,1167.9 L2001.6,1169.9 L2002.3,1171.9 L2002.9,1174.1 L2003.4,1176.3 L2003.8,1178.4 L2004.2,1180.4 L2004.6,1182.4 L2005.0,1184.4 L2005.3,1185.9 L2005.4,1186.4 L2005.8,1188.5 L2006.1,1190.5 L2006.5,1192.5 L2006.9,1194.4 L2007.3,1196.3 L2007.6,1197.6 L2007.7,1198.0 L2008.3,1200.1 L2008.9,1201.8 L2009.4,1202.4 L2009.8,1202.2 L2010.8,1200.5 L2011.6,1198.3 L2011.8,1197.6 L2012.3,1195.9 L2012.7,1193.7 L2013.1,1191.6 L2013.5,1189.5 L2013.8,1187.6 L2014.1,1185.9 L2014.1,1185.6 L2014.5,1183.5 L2014.9,1181.5 L2015.2,1179.5 L2015.5,1177.5 L2015.9,1175.6 L2016.3,1173.8 L2016.5,1172.9 L2016.7,1172.1 L2017.3,1170.2 L2018.0,1168.5 L2018.8,1167.6 L2019.0,1168.0 L2019.5,1172.2 L2019.7,1174.4 L2019.8,1176.5 L2019.9,1178.6 L2020.0,1180.0 L2020.0,1181.1 L2020.2,1185.7 L2020.3,1192.0 L2020.4,1199.3 L2020.5,1206.6 L2020.6,1209.4 L2020.7,1213.5 L2020.8,1221.0 L2020.9,1228.7 L2021.0,1236.3 L2021.2,1243.3 L2021.2,1244.7 L2021.3,1249.5 L2021.4,1255.2 L2021.5,1260.6 L2021.7,1265.8 L2021.8,1271.1 L2021.9,1276.5 L2022.0,1280.0 L2022.0,1282.3 L2022.2,1288.4 L2022.3,1294.8 L2022.4,1301.3 L2022.5,1307.9 L2022.7,1314.3 L2022.8,1320.6 L2022.9,1326.5 L2023.0,1330.0 L2023.0,1332.2 L2023.2,1338.3 L2023.3,1344.7 L2023.4,1351.2 L2023.5,1357.7 L2023.7,1363.8 L2023.8,1369.3 L2023.9,1374.1 L2024.0,1377.8 L2024.2,1380.1 L2024.3,1381.0 L2025.2,1355.2 L2025.3,1349.5 L2025.4,1343.9 L2025.5,1338.7 L2025.7,1334.0 L2025.8,1330.1 L2025.8,1330.0 L2025.9,1326.7 L2026.0,1323.3 L2026.2,1320.0 L2026.3,1316.8 L2026.4,1313.6 L2026.5,1310.5 L2026.7,1307.5 L2026.8,1304.5 L2026.9,1301.6 L2027.0,1298.8 L2027.2,1296.1 L2027.3,1293.4 L2027.4,1290.8 L2027.5,1288.3 L2027.7,1285.9 L2027.8,1283.6 L2027.9,1281.3 L2028.0,1280.0 L2028.0,1279.2 L2028.2,1277.2 L2028.3,1275.2 L2028.4,1273.3 L2028.6,1271.3 L2028.7,1269.3 L2028.9,1267.4 L2029.0,1265.4 L2029.2,1263.4 L2029.4,1261.4 L2029.5,1259.4 L2029.7,1257.4 L2029.8,1255.4 L2030.0,1253.4 L2030.2,1251.3 L2030.3,1249.3 L2030.4,1247.2 L2030.6,1245.2 L2030.6,1244.7 L2030.7,1243.1 L2030.8,1240.8 L2030.9,1238.4 L2031.1,1235.9 L2031.2,1233.3 L2031.3,1230.7 L2031.4,1228.0 L2031.6,1225.3 L2031.7,1222.6 L2031.8,1220.0 L2031.9,1217.5 L2032.1,1215.1 L2032.2,1212.8 L2032.3,1210.6 L2032.4,1209.4 L2032.4,1208.7 L2032.6,1206.7 L2032.7,1204.7 L2032.8,1202.8 L2033.0,1200.8 L2033.1,1198.9 L2033.3,1197.1 L2033.5,1195.3 L2033.8,1193.5 L2034.1,1191.8 L2034.6,1190.1 L2035.1,1188.0 L2035.6,1185.5 L2035.9,1183.5 L2035.9,1183.2 L2036.2,1180.8 L2036.3,1178.6 L2036.5,1176.5 L2036.6,1174.2 L2036.7,1171.7 L2036.9,1168.9 L2037.0,1165.8 L2037.1,1162.4 L2037.1,1162.3 L2037.2,1156.1 L2037.4,1147.3 L2037.5,1138.6 L2037.6,1132.9 L2037.6,1132.8 L2037.7,1129.4 L2037.9,1126.4 L2038.0,1123.7 L2038.1,1121.3 L2038.2,1119.1 L2038.4,1117.1 L2038.5,1115.2 L2038.6,1113.3 L2038.8,1111.3 L2039.0,1109.3 L2039.1,1107.3 L2039.3,1105.2 L2039.4,1103.5 L2039.4,1103.2 L2039.6,1101.2 L2039.7,1099.2 L2039.9,1097.3 L2040.0,1095.3 L2040.2,1093.3 L2040.3,1091.3 L2040.5,1089.3 L2040.7,1087.3 L2040.8,1085.3 L2041.0,1083.2 L2041.1,1081.2 L2041.2,1080.0 L2041.3,1079.2 L2041.4,1077.2 L2041.5,1075.1 L2041.7,1073.1 L2041.8,1071.1 L2041.9,1069.1 L2042.1,1067.1 L2042.2,1065.1 L2042.3,1063.0 L2042.4,1060.9 L2042.5,1060.0 L2042.6,1058.8 L2042.7,1056.4 L2042.8,1053.9 L2042.9,1051.3 L2043.1,1048.7 L2043.2,1046.3 L2043.3,1044.0 L2043.4,1042.0 L2043.5,1041.2 L2043.6,1040.2 L2043.7,1038.3 L2043.9,1036.4 L2044.1,1034.5 L2044.3,1032.5 L2044.6,1030.6 L2044.8,1028.5 L2045.0,1026.4 L2045.2,1024.3 L2045.3,1023.5 L2045.4,1022.3 L2045.6,1020.3 L2045.8,1018.2 L2045.9,1016.2 L2046.1,1014.2 L2046.3,1012.1 L2046.4,1010.1 L2046.6,1008.1 L2046.7,1006.0 L2046.8,1004.0 L2047.0,1001.9 L2047.1,1000.0 L2047.1,999.9 L2047.2,997.6 L2047.4,995.1 L2047.5,992.3 L2047.6,989.4 L2047.7,986.4 L2047.9,983.6 L2048.0,980.8 L2048.1,978.2 L2048.2,976.5 L2048.2,975.9 L2048.4,973.8 L2048.5,971.6 L2048.6,969.5 L2048.7,967.5 L2048.9,965.5 L2049.0,963.6 L2049.1,961.7 L2049.3,959.8 L2049.4,958.8 L2049.5,958.0 L2049.7,956.1 L2050.0,954.2 L2050.2,952.4 L2050.5,950.5 L2050.9,948.6 L2051.2,947.1 L2051.3,946.7 L2051.7,944.8 L2052.2,942.9 L2052.7,941.0 L2053.3,939.2 L2053.5,938.8 L2054.1,937.4 L2055.0,935.6 L2056.0,934.0 L2056.5,933.5 L2057.0,933.0 L2058.0,932.1 L2059.0,931.5 L2060.0,931.2 L2061.0,931.5 L2062.0,932.1 L2062.4,932.4 L2063.0,933.1 L2064.0,934.8 L2064.7,935.3 L2065.0,935.3 L2066.0,935.3 L2067.0,935.3 L2067.1,935.3 L2068.0,934.1 L2068.9,931.8 L2069.4,930.6 L2069.6,930.1 L2070.2,929.0"/>
</g>
<g class="dash">
<rect x="558.3" y="232.7" width="6.4" height="25.9" rx="1.6"/><rect x="558.3" y="282.2" width="6.4" height="25.9" rx="1.6"/><rect x="558.3" y="331.7" width="6.4" height="25.9" rx="1.6"/><rect x="558.3" y="381.2" width="6.4" height="25.9" rx="1.6"/><rect x="558.3" y="430.7" width="6.4" height="25.9" rx="1.6"/><rect x="558.3" y="480.2" width="6.4" height="25.9" rx="1.6"/><rect x="558.3" y="529.7" width="6.4" height="25.9" rx="1.6"/><rect x="558.3" y="579.2" width="6.4" height="25.9" rx="1.6"/><rect x="558.3" y="628.7" width="6.4" height="25.9" rx="1.6"/><rect x="558.3" y="678.2" width="6.4" height="25.9" rx="1.6"/><rect x="558.3" y="727.7" width="6.4" height="25.9" rx="1.6"/><rect x="558.3" y="777.2" width="6.4" height="25.9" rx="1.6"/><rect x="558.3" y="826.7" width="6.4" height="25.9" rx="1.6"/><rect x="558.3" y="876.2" width="6.4" height="25.9" rx="1.6"/><rect x="558.3" y="925.7" width="6.4" height="25.9" rx="1.6"/><rect x="558.3" y="975.2" width="6.4" height="25.9" rx="1.6"/>
<rect x="601.7" y="218.7" width="6.4" height="25.9" rx="1.6"/><rect x="601.7" y="268.2" width="6.4" height="25.9" rx="1.6"/><rect x="601.7" y="317.7" width="6.4" height="25.9" rx="1.6"/><rect x="601.7" y="367.2" width="6.4" height="25.9" rx="1.6"/><rect x="601.7" y="416.7" width="6.4" height="25.9" rx="1.6"/><rect x="601.7" y="466.2" width="6.4" height="25.9" rx="1.6"/><rect x="601.7" y="515.7" width="6.4" height="25.9" rx="1.6"/><rect x="601.7" y="565.2" width="6.4" height="25.9" rx="1.6"/><rect x="601.7" y="614.7" width="6.4" height="25.9" rx="1.6"/><rect x="601.7" y="664.2" width="6.4" height="25.9" rx="1.6"/><rect x="601.7" y="713.7" width="6.4" height="25.9" rx="1.6"/><rect x="601.7" y="763.2" width="6.4" height="25.9" rx="1.6"/><rect x="601.7" y="812.7" width="6.4" height="25.9" rx="1.6"/><rect x="601.7" y="862.2" width="6.4" height="25.9" rx="1.6"/><rect x="601.7" y="911.7" width="6.4" height="25.9" rx="1.6"/><rect x="601.7" y="961.2" width="6.4" height="25.9" rx="1.6"/>
<rect x="1406.2" y="242.5" width="6.4" height="25.9" rx="1.6"/><rect x="1406.2" y="292.0" width="6.4" height="25.9" rx="1.6"/><rect x="1406.2" y="341.5" width="6.4" height="25.9" rx="1.6"/><rect x="1406.2" y="391.0" width="6.4" height="25.9" rx="1.6"/><rect x="1406.2" y="440.5" width="6.4" height="25.9" rx="1.6"/><rect x="1406.2" y="490.0" width="6.4" height="25.9" rx="1.6"/><rect x="1406.2" y="539.5" width="6.4" height="25.9" rx="1.6"/><rect x="1406.2" y="589.0" width="6.4" height="25.9" rx="1.6"/><rect x="1406.2" y="638.5" width="6.4" height="25.9" rx="1.6"/><rect x="1406.2" y="688.0" width="6.4" height="25.9" rx="1.6"/><rect x="1406.2" y="737.5" width="6.4" height="25.9" rx="1.6"/><rect x="1406.2" y="787.0" width="6.4" height="25.9" rx="1.6"/><rect x="1406.2" y="836.5" width="6.4" height="25.9" rx="1.6"/><rect x="1406.2" y="886.0" width="6.4" height="25.9" rx="1.6"/><rect x="1406.2" y="935.5" width="6.4" height="25.9" rx="1.6"/><rect x="1406.2" y="985.0" width="6.4" height="25.9" rx="1.6"/>
<rect x="1755.8" y="238.2" width="6.4" height="25.9" rx="1.6"/><rect x="1755.8" y="287.7" width="6.4" height="25.9" rx="1.6"/><rect x="1755.8" y="337.2" width="6.4" height="25.9" rx="1.6"/><rect x="1755.8" y="386.7" width="6.4" height="25.9" rx="1.6"/><rect x="1755.8" y="436.2" width="6.4" height="25.9" rx="1.6"/><rect x="1755.8" y="485.7" width="6.4" height="25.9" rx="1.6"/><rect x="1755.8" y="535.2" width="6.4" height="25.9" rx="1.6"/><rect x="1755.8" y="584.7" width="6.4" height="25.9" rx="1.6"/><rect x="1755.8" y="634.2" width="6.4" height="25.9" rx="1.6"/><rect x="1755.8" y="683.7" width="6.4" height="25.9" rx="1.6"/><rect x="1755.8" y="733.2" width="6.4" height="25.9" rx="1.6"/><rect x="1755.8" y="782.7" width="6.4" height="25.9" rx="1.6"/><rect x="1755.8" y="832.2" width="6.4" height="25.9" rx="1.6"/><rect x="1755.8" y="881.7" width="6.4" height="25.9" rx="1.6"/><rect x="1755.8" y="931.2" width="6.4" height="25.9" rx="1.6"/><rect x="1755.8" y="980.7" width="6.4" height="25.9" rx="1.6"/>
<rect x="2023.9" y="457.3" width="6.4" height="25.9" rx="1.6"/><rect x="2023.9" y="506.8" width="6.4" height="25.9" rx="1.6"/><rect x="2023.9" y="556.3" width="6.4" height="25.9" rx="1.6"/><rect x="2023.9" y="605.8" width="6.4" height="25.9" rx="1.6"/><rect x="2023.9" y="655.3" width="6.4" height="25.9" rx="1.6"/><rect x="2023.9" y="704.8" width="6.4" height="25.9" rx="1.6"/><rect x="2023.9" y="754.3" width="6.4" height="25.9" rx="1.6"/><rect x="2023.9" y="803.8" width="6.4" height="25.9" rx="1.6"/><rect x="2023.9" y="853.3" width="6.4" height="25.9" rx="1.6"/><rect x="2023.9" y="902.8" width="6.4" height="25.9" rx="1.6"/><rect x="2023.9" y="952.3" width="6.4" height="25.9" rx="1.6"/><rect x="2023.9" y="1001.8" width="6.4" height="25.9" rx="1.6"/><rect x="2023.9" y="1051.3" width="6.4" height="25.9" rx="1.6"/><rect x="2023.9" y="1100.8" width="6.4" height="25.9" rx="1.6"/><rect x="2023.9" y="1150.3" width="6.4" height="25.9" rx="1.6"/><rect x="2023.9" y="1199.8" width="6.4" height="25.9" rx="1.6"/>
</g>
<text class="tick" x="212.9" y="1509.6">3500</text>
<text class="tick" x="512.5" y="1509.6">3000</text>
<text class="tick" x="812.1" y="1509.6">2500</text>
<text class="tick" x="1111.7" y="1509.6">2000</text>
<text class="tick" x="1411.3" y="1509.6">1500</text>
<text class="tick" x="1710.9" y="1509.6">1000</text>
<text class="tick" x="2010.5" y="1509.6">500</text>
<text class="lab" x="507" y="174.6">C-H</text>
<text class="lab" x="1331.8" y="186">N-H</text>
<text class="lab" x="1677.5" y="183.6">Mo-S</text>
<text class="lab" x="1897" y="337.2">Ti-O</text>
<text class="lab" x="306" y="284">c</text>
<text class="lab" x="306" y="713.3">b</text>
<text class="lab" x="305.2" y="940">a</text>
<text class="title" x="650.4" y="1649.3">Wavenumber <tspan x="1278.3" y="1645.6" font-size="108px">(</tspan><tspan x="1316.6" y="1649.3">cm</tspan><tspan x="1451" y="1590.2" font-size="69px">-</tspan><tspan x="1469.5" y="1589.2" font-size="69px">1</tspan><tspan x="1507.2" y="1645.6" font-size="108px">)</tspan></text>
<text class="title" transform="translate(112.5,1144) rotate(-90)">Transmittance (a.u.)</text>
</svg>
</body>
</html>
